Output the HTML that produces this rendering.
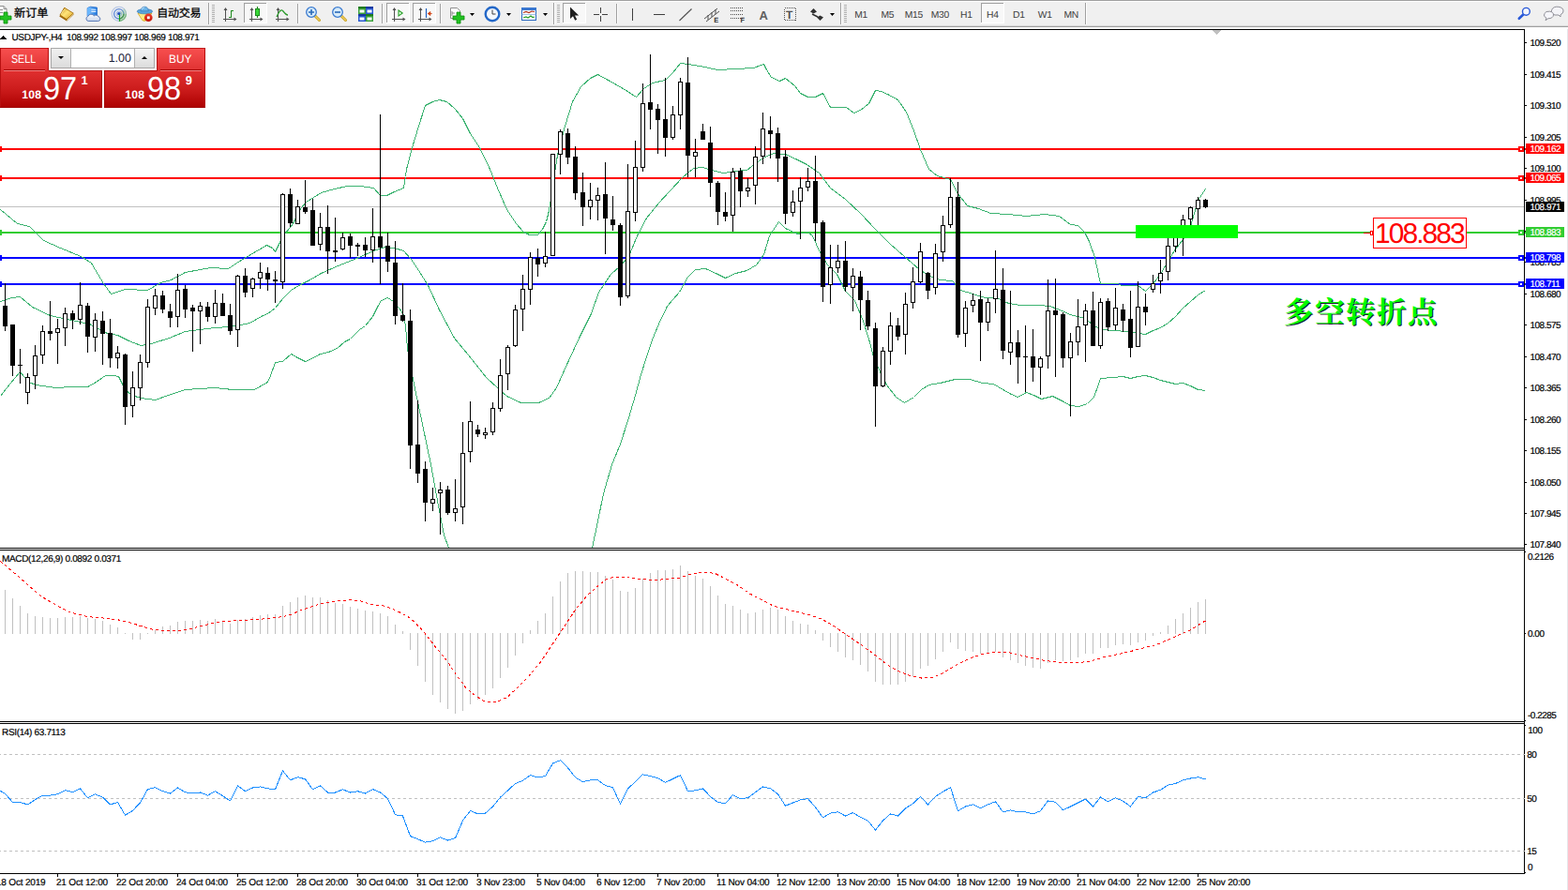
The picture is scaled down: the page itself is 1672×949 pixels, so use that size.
<!DOCTYPE html>
<html><head><meta charset="utf-8"><title>USDJPY H4</title>
<style>
html,body{margin:0;padding:0;background:#fff;}
body{width:1672px;height:949px;overflow:hidden;position:relative;text-rendering:geometricPrecision;font-family:"Liberation Sans",sans-serif;}
#chart{position:absolute;left:0;top:0;}
#tb{position:absolute;left:0;top:0;}
#trade{position:absolute;left:0;top:51px;width:219px;height:64px;font-family:"Liberation Sans",sans-serif;}
#trade div{position:absolute;box-sizing:border-box;}
.sb{background:linear-gradient(#f85050,#e03232);color:#fff;font-size:11.5px;letter-spacing:-0.45px;text-align:center;line-height:24px;}
.pp{background:linear-gradient(#e03030,#cc1c1c 50%,#ac0000);color:#fff;}
.pp span,.sb span{position:absolute;white-space:nowrap;line-height:1;transform-origin:0 0;display:block;}
.sx{font-size:12.4px;letter-spacing:0;transform:scaleX(0.86);}
.s1{font-size:12.2px;font-weight:bold;letter-spacing:0.2px;}
.s2{font-size:34.6px;transform:scaleX(0.94);}
.s3{font-size:12.8px;font-weight:bold;}
</style></head><body>
<svg id="chart" width="1672" height="949" viewBox="0 0 1672 949" shape-rendering="crispEdges" text-rendering="geometricPrecision" font-family="Liberation Sans, sans-serif">
<rect x="0" y="31" width="1672" height="918" fill="#fff"/>
<rect x="1671" y="29" width="1" height="920" fill="#e6e6ea"/>
<defs><clipPath id="cm"><rect x="0" y="32" width="1625" height="552"/></clipPath><clipPath id="cmacd"><rect x="0" y="587" width="1625" height="182"/></clipPath><clipPath id="crsi"><rect x="0" y="772" width="1625" height="159"/></clipPath></defs>
<rect x="0" y="220" width="1625" height="1" fill="#C0C0C0"/>
<rect x="0" y="158" width="1627" height="2" fill="#FF0000"/>
<rect x="0" y="156" width="2" height="6" fill="#FF0000"/>
<rect x="0" y="189" width="1627" height="2" fill="#FF0000"/>
<rect x="0" y="187" width="2" height="6" fill="#FF0000"/>
<rect x="0" y="247" width="1627" height="2" fill="#32CD32"/>
<rect x="0" y="245" width="2" height="6" fill="#32CD32"/>
<rect x="0" y="274" width="1627" height="2" fill="#0000FF"/>
<rect x="0" y="272" width="2" height="6" fill="#0000FF"/>
<rect x="0" y="302" width="1627" height="2" fill="#0000FF"/>
<rect x="0" y="300" width="2" height="6" fill="#0000FF"/>
<g clip-path="url(#cm)">
<polyline points="0.5,223.5 18.5,238.5 31.5,241.5 46.5,256.5 64.5,264.5 86.5,273.5 97.5,280.5 101.5,287.5 110.5,302.5 118.5,313.5 133.5,308.5 157.5,309.5 171.5,301.5 182.5,298.5 197.5,290.5 224.5,285.5 243.5,286.5 252.5,280.5 260.5,275.5 284.5,261.5 290.5,264.5 293.5,268.5 299.5,256.5 304.5,248.5 312.5,238.5 320.5,222.5 326.5,215.5 342.5,205.5 356.5,201.5 370.5,198.5 384.5,198.5 398.5,200.5 405.5,208.5 412.5,208.5 420.5,204.5 430.5,200.5 432.5,188.5 433.5,180.5 439.5,157.5 446.5,134.5 453.5,112.5 461.5,108.5 468.5,106.5 476.5,108.5 485.5,116.5 493.5,126.5 501.5,142.5 511.5,157.5 522.5,180.5 530.5,200.5 540.5,223.5 550.5,238.5 558.5,247.5 564.5,250.5 573.5,250.5 578.5,244.5 582.5,236.5 585.5,224.5 587.5,211.5 588.5,203.5 594.5,165.5 602.5,134.5 610.5,108.5 619.5,92.5 629.5,83.5 637.5,79.5 648.5,85.5 664.5,94.5 678.5,103.5 686.5,94.5 695.5,88.5 709.5,85.5 717.5,77.5 725.5,67.5 733.5,68.5 746.5,70.5 765.5,74.5 784.5,73.5 803.5,72.5 814.5,68.5 817.5,74.5 822.5,82.5 831.5,86.5 837.5,83.5 847.5,91.5 853.5,99.5 861.5,103.5 869.5,103.5 877.5,99.5 885.5,114.5 902.5,114.5 910.5,120.5 917.5,117.5 926.5,110.5 933.5,96.5 939.5,97.5 946.5,100.5 957.5,106.5 966.5,119.5 974.5,139.5 981.5,159.5 990.5,180.5 999.5,187.5 1013.5,191.5 1021.5,206.5 1031.5,219.5 1043.5,222.5 1056.5,227.5 1075.5,228.5 1094.5,230.5 1113.5,228.5 1129.5,230.5 1141.5,239.5 1149.5,240.5 1156.5,247.5 1161.5,257.5 1167.5,274.5 1170.5,288.5 1173.5,302.5 1191.5,302.5 1196.5,304.5 1213.5,304.5 1221.5,310.5 1229.5,302.5 1237.5,292.5 1245.5,278.5 1253.5,265.5 1261.5,255.5 1269.5,241.5 1277.5,213.5 1285.5,201.5" fill="none" stroke="#3CB371" stroke-width="1"/>
<polyline points="0.5,321.5 12.5,317.5 21.5,316.5 34.5,327.5 53.5,336.5 76.5,341.5 95.5,345.5 114.5,355.5 125.5,357.5 137.5,363.5 150.5,368.5 161.5,366.5 180.5,360.5 197.5,353.5 228.5,349.5 245.5,348.5 266.5,344.5 280.5,336.5 285.5,334.5 293.5,328.5 301.5,318.5 310.5,309.5 318.5,304.5 330.5,298.5 342.5,291.5 360.5,283.5 380.5,275.5 398.5,267.5 410.5,263.5 420.5,264.5 430.5,267.5 438.5,276.5 446.5,288.5 456.5,304.5 468.5,330.5 484.5,360.5 503.5,383.5 518.5,402.5 531.5,414.5 540.5,422.5 555.5,429.5 574.5,429.5 585.5,424.5 593.5,413.5 605.5,386.5 618.5,358.5 630.5,334.5 638.5,311.5 651.5,292.5 660.5,284.5 670.5,273.5 679.5,251.5 689.5,232.5 702.5,216.5 714.5,203.5 727.5,189.5 739.5,179.5 749.5,178.5 758.5,181.5 771.5,184.5 784.5,182.5 796.5,181.5 806.5,173.5 815.5,167.5 825.5,163.5 837.5,164.5 850.5,170.5 860.5,175.5 873.5,184.5 885.5,200.5 901.5,212.5 917.5,227.5 933.5,244.5 949.5,260.5 964.5,273.5 980.5,287.5 993.5,295.5 1002.5,298.5 1015.5,299.5 1024.5,309.5 1037.5,313.5 1050.5,317.5 1062.5,317.5 1075.5,323.5 1088.5,325.5 1107.5,325.5 1119.5,326.5 1132.5,331.5 1141.5,335.5 1156.5,339.5 1164.5,345.5 1173.5,351.5 1187.5,352.5 1201.5,353.5 1213.5,355.5 1221.5,356.5 1229.5,352.5 1237.5,349.5 1245.5,344.5 1253.5,337.5 1261.5,328.5 1269.5,321.5 1277.5,314.5 1285.5,309.5" fill="none" stroke="#3CB371" stroke-width="1"/>
<polyline points="0.5,422.5 10.5,409.5 21.5,396.5 30.5,407.5 38.5,410.5 59.5,413.5 76.5,412.5 93.5,412.5 102.5,407.5 112.5,400.5 121.5,400.5 126.5,401.5 133.5,415.5 140.5,421.5 150.5,424.5 165.5,426.5 182.5,420.5 197.5,415.5 228.5,413.5 248.5,415.5 271.5,415.5 285.5,407.5 288.5,400.5 293.5,386.5 301.5,385.5 310.5,377.5 317.5,381.5 325.5,385.5 332.5,382.5 341.5,377.5 350.5,375.5 359.5,371.5 367.5,364.5 373.5,361.5 383.5,351.5 389.5,347.5 397.5,337.5 402.5,327.5 406.5,320.5 413.5,317.5 419.5,321.5 425.5,328.5 430.5,335.5 432.5,348.5 434.5,371.5 436.5,383.5 442.5,414.5 450.5,452.5 459.5,495.5 467.5,539.5 473.5,570.5 478.5,584.5" fill="none" stroke="#3CB371" stroke-width="1"/>
<polyline points="631.5,584.5 636.5,560.5 643.5,526.5 652.5,495.5 661.5,473.5 670.5,445.5 677.5,421.5 683.5,399.5 689.5,380.5 695.5,362.5 702.5,345.5 711.5,326.5 724.5,311.5 733.5,295.5 741.5,287.5 752.5,286.5 765.5,292.5 773.5,296.5 784.5,291.5 796.5,288.5 806.5,282.5 814.5,271.5 820.5,251.5 830.5,236.5 837.5,243.5 850.5,249.5 861.5,247.5 866.5,251.5 874.5,269.5 882.5,282.5 892.5,292.5 901.5,310.5 911.5,320.5 920.5,342.5 926.5,361.5 931.5,380.5 938.5,396.5 945.5,410.5 955.5,423.5 964.5,429.5 974.5,423.5 982.5,415.5 990.5,410.5 1002.5,408.5 1018.5,404.5 1034.5,404.5 1047.5,408.5 1059.5,409.5 1069.5,415.5 1078.5,420.5 1085.5,423.5 1094.5,418.5 1102.5,421.5 1110.5,425.5 1122.5,422.5 1132.5,427.5 1141.5,432.5 1150.5,433.5 1159.5,430.5 1166.5,423.5 1170.5,412.5 1173.5,403.5 1187.5,402.5 1197.5,401.5 1205.5,403.5 1213.5,401.5 1221.5,400.5 1229.5,402.5 1237.5,405.5 1245.5,407.5 1253.5,409.5 1261.5,408.5 1269.5,411.5 1277.5,415.5 1285.5,416.5" fill="none" stroke="#3CB371" stroke-width="1"/>
<rect x="5" y="302" width="1" height="51" fill="#000"/>
<rect x="3" y="326" width="5" height="22" fill="#000"/>
<rect x="13" y="346" width="1" height="55" fill="#000"/>
<rect x="11" y="346" width="5" height="44" fill="#000"/>
<rect x="21" y="372" width="1" height="37" fill="#000"/>
<rect x="19" y="389" width="5" height="1" fill="#000"/>
<rect x="29" y="398" width="1" height="33" fill="#000"/>
<rect x="27" y="402" width="5" height="17" fill="#000"/>
<rect x="28" y="403" width="3" height="15" fill="#fff"/>
<rect x="37" y="368" width="1" height="47" fill="#000"/>
<rect x="35" y="379" width="5" height="22" fill="#000"/>
<rect x="36" y="380" width="3" height="20" fill="#fff"/>
<rect x="45" y="347" width="1" height="41" fill="#000"/>
<rect x="43" y="353" width="5" height="26" fill="#000"/>
<rect x="44" y="354" width="3" height="24" fill="#fff"/>
<rect x="53" y="321" width="1" height="42" fill="#000"/>
<rect x="51" y="353" width="5" height="3" fill="#000"/>
<rect x="61" y="340" width="1" height="48" fill="#000"/>
<rect x="59" y="350" width="5" height="5" fill="#000"/>
<rect x="60" y="351" width="3" height="3" fill="#fff"/>
<rect x="69" y="328" width="1" height="41" fill="#000"/>
<rect x="67" y="334" width="5" height="16" fill="#000"/>
<rect x="68" y="335" width="3" height="14" fill="#fff"/>
<rect x="77" y="331" width="1" height="20" fill="#000"/>
<rect x="75" y="334" width="5" height="7" fill="#000"/>
<rect x="85" y="301" width="1" height="45" fill="#000"/>
<rect x="83" y="325" width="5" height="16" fill="#000"/>
<rect x="84" y="326" width="3" height="14" fill="#fff"/>
<rect x="93" y="323" width="1" height="53" fill="#000"/>
<rect x="91" y="326" width="5" height="33" fill="#000"/>
<rect x="101" y="334" width="1" height="41" fill="#000"/>
<rect x="99" y="341" width="5" height="19" fill="#000"/>
<rect x="100" y="342" width="3" height="17" fill="#fff"/>
<rect x="109" y="332" width="1" height="57" fill="#000"/>
<rect x="107" y="342" width="5" height="14" fill="#000"/>
<rect x="117" y="340" width="1" height="52" fill="#000"/>
<rect x="115" y="355" width="5" height="27" fill="#000"/>
<rect x="125" y="369" width="1" height="24" fill="#000"/>
<rect x="123" y="376" width="5" height="6" fill="#000"/>
<rect x="124" y="377" width="3" height="4" fill="#fff"/>
<rect x="133" y="377" width="1" height="76" fill="#000"/>
<rect x="131" y="378" width="5" height="56" fill="#000"/>
<rect x="141" y="396" width="1" height="49" fill="#000"/>
<rect x="139" y="413" width="5" height="20" fill="#000"/>
<rect x="140" y="414" width="3" height="18" fill="#fff"/>
<rect x="149" y="378" width="1" height="49" fill="#000"/>
<rect x="147" y="386" width="5" height="28" fill="#000"/>
<rect x="148" y="387" width="3" height="26" fill="#fff"/>
<rect x="157" y="319" width="1" height="73" fill="#000"/>
<rect x="155" y="327" width="5" height="60" fill="#000"/>
<rect x="156" y="328" width="3" height="58" fill="#fff"/>
<rect x="165" y="308" width="1" height="28" fill="#000"/>
<rect x="163" y="315" width="5" height="14" fill="#000"/>
<rect x="164" y="316" width="3" height="12" fill="#fff"/>
<rect x="173" y="310" width="1" height="24" fill="#000"/>
<rect x="171" y="315" width="5" height="15" fill="#000"/>
<rect x="181" y="324" width="1" height="25" fill="#000"/>
<rect x="179" y="332" width="5" height="7" fill="#000"/>
<rect x="189" y="292" width="1" height="57" fill="#000"/>
<rect x="187" y="309" width="5" height="29" fill="#000"/>
<rect x="188" y="310" width="3" height="27" fill="#fff"/>
<rect x="197" y="304" width="1" height="35" fill="#000"/>
<rect x="195" y="308" width="5" height="22" fill="#000"/>
<rect x="205" y="325" width="1" height="50" fill="#000"/>
<rect x="203" y="328" width="5" height="4" fill="#000"/>
<rect x="213" y="322" width="1" height="45" fill="#000"/>
<rect x="211" y="326" width="5" height="6" fill="#000"/>
<rect x="212" y="327" width="3" height="4" fill="#fff"/>
<rect x="221" y="322" width="1" height="21" fill="#000"/>
<rect x="219" y="327" width="5" height="11" fill="#000"/>
<rect x="229" y="309" width="1" height="36" fill="#000"/>
<rect x="227" y="323" width="5" height="15" fill="#000"/>
<rect x="228" y="324" width="3" height="13" fill="#fff"/>
<rect x="237" y="313" width="1" height="24" fill="#000"/>
<rect x="235" y="323" width="5" height="14" fill="#000"/>
<rect x="245" y="324" width="1" height="33" fill="#000"/>
<rect x="243" y="336" width="5" height="17" fill="#000"/>
<rect x="253" y="293" width="1" height="77" fill="#000"/>
<rect x="251" y="294" width="5" height="58" fill="#000"/>
<rect x="252" y="295" width="3" height="56" fill="#fff"/>
<rect x="261" y="286" width="1" height="31" fill="#000"/>
<rect x="259" y="294" width="5" height="18" fill="#000"/>
<rect x="269" y="296" width="1" height="21" fill="#000"/>
<rect x="267" y="297" width="5" height="11" fill="#000"/>
<rect x="268" y="298" width="3" height="9" fill="#fff"/>
<rect x="277" y="280" width="1" height="28" fill="#000"/>
<rect x="275" y="290" width="5" height="7" fill="#000"/>
<rect x="276" y="291" width="3" height="5" fill="#fff"/>
<rect x="285" y="285" width="1" height="25" fill="#000"/>
<rect x="283" y="291" width="5" height="7" fill="#000"/>
<rect x="293" y="289" width="1" height="34" fill="#000"/>
<rect x="291" y="298" width="5" height="2" fill="#000"/>
<rect x="301" y="206" width="1" height="102" fill="#000"/>
<rect x="299" y="207" width="5" height="94" fill="#000"/>
<rect x="300" y="208" width="3" height="92" fill="#fff"/>
<rect x="309" y="201" width="1" height="41" fill="#000"/>
<rect x="307" y="207" width="5" height="31" fill="#000"/>
<rect x="317" y="213" width="1" height="26" fill="#000"/>
<rect x="315" y="220" width="5" height="19" fill="#000"/>
<rect x="316" y="221" width="3" height="17" fill="#fff"/>
<rect x="325" y="192" width="1" height="36" fill="#000"/>
<rect x="323" y="221" width="5" height="5" fill="#000"/>
<rect x="333" y="212" width="1" height="50" fill="#000"/>
<rect x="331" y="224" width="5" height="38" fill="#000"/>
<rect x="341" y="227" width="1" height="40" fill="#000"/>
<rect x="339" y="242" width="5" height="19" fill="#000"/>
<rect x="340" y="243" width="3" height="17" fill="#fff"/>
<rect x="349" y="219" width="1" height="73" fill="#000"/>
<rect x="347" y="242" width="5" height="26" fill="#000"/>
<rect x="357" y="232" width="1" height="47" fill="#000"/>
<rect x="355" y="267" width="5" height="2" fill="#000"/>
<rect x="365" y="248" width="1" height="19" fill="#000"/>
<rect x="363" y="253" width="5" height="13" fill="#000"/>
<rect x="364" y="254" width="3" height="11" fill="#fff"/>
<rect x="373" y="249" width="1" height="26" fill="#000"/>
<rect x="371" y="252" width="5" height="10" fill="#000"/>
<rect x="381" y="259" width="1" height="14" fill="#000"/>
<rect x="379" y="261" width="5" height="2" fill="#000"/>
<rect x="389" y="253" width="1" height="21" fill="#000"/>
<rect x="387" y="261" width="5" height="6" fill="#000"/>
<rect x="397" y="222" width="1" height="58" fill="#000"/>
<rect x="395" y="252" width="5" height="15" fill="#000"/>
<rect x="396" y="253" width="3" height="13" fill="#fff"/>
<rect x="405" y="122" width="1" height="181" fill="#000"/>
<rect x="403" y="252" width="5" height="12" fill="#000"/>
<rect x="413" y="248" width="1" height="42" fill="#000"/>
<rect x="411" y="262" width="5" height="17" fill="#000"/>
<rect x="421" y="257" width="1" height="89" fill="#000"/>
<rect x="419" y="280" width="5" height="57" fill="#000"/>
<rect x="429" y="302" width="1" height="41" fill="#000"/>
<rect x="427" y="336" width="5" height="6" fill="#000"/>
<rect x="437" y="330" width="1" height="170" fill="#000"/>
<rect x="435" y="342" width="5" height="133" fill="#000"/>
<rect x="445" y="427" width="1" height="88" fill="#000"/>
<rect x="443" y="474" width="5" height="31" fill="#000"/>
<rect x="453" y="492" width="1" height="64" fill="#000"/>
<rect x="451" y="500" width="5" height="36" fill="#000"/>
<rect x="461" y="520" width="1" height="25" fill="#000"/>
<rect x="459" y="532" width="5" height="5" fill="#000"/>
<rect x="460" y="533" width="3" height="3" fill="#fff"/>
<rect x="469" y="514" width="1" height="56" fill="#000"/>
<rect x="467" y="522" width="5" height="4" fill="#000"/>
<rect x="468" y="523" width="3" height="2" fill="#fff"/>
<rect x="477" y="518" width="1" height="31" fill="#000"/>
<rect x="475" y="522" width="5" height="25" fill="#000"/>
<rect x="485" y="511" width="1" height="45" fill="#000"/>
<rect x="483" y="542" width="5" height="5" fill="#000"/>
<rect x="484" y="543" width="3" height="3" fill="#fff"/>
<rect x="493" y="450" width="1" height="109" fill="#000"/>
<rect x="491" y="483" width="5" height="58" fill="#000"/>
<rect x="492" y="484" width="3" height="56" fill="#fff"/>
<rect x="501" y="428" width="1" height="65" fill="#000"/>
<rect x="499" y="449" width="5" height="33" fill="#000"/>
<rect x="500" y="450" width="3" height="31" fill="#fff"/>
<rect x="509" y="453" width="1" height="13" fill="#000"/>
<rect x="507" y="458" width="5" height="5" fill="#000"/>
<rect x="517" y="456" width="1" height="12" fill="#000"/>
<rect x="515" y="461" width="5" height="3" fill="#000"/>
<rect x="516" y="462" width="3" height="1" fill="#fff"/>
<rect x="525" y="429" width="1" height="35" fill="#000"/>
<rect x="523" y="435" width="5" height="26" fill="#000"/>
<rect x="524" y="436" width="3" height="24" fill="#fff"/>
<rect x="533" y="383" width="1" height="56" fill="#000"/>
<rect x="531" y="400" width="5" height="36" fill="#000"/>
<rect x="532" y="401" width="3" height="34" fill="#fff"/>
<rect x="541" y="368" width="1" height="48" fill="#000"/>
<rect x="539" y="370" width="5" height="29" fill="#000"/>
<rect x="540" y="371" width="3" height="27" fill="#fff"/>
<rect x="549" y="325" width="1" height="45" fill="#000"/>
<rect x="547" y="330" width="5" height="39" fill="#000"/>
<rect x="548" y="331" width="3" height="37" fill="#fff"/>
<rect x="557" y="293" width="1" height="60" fill="#000"/>
<rect x="555" y="308" width="5" height="22" fill="#000"/>
<rect x="556" y="309" width="3" height="20" fill="#fff"/>
<rect x="565" y="269" width="1" height="56" fill="#000"/>
<rect x="563" y="274" width="5" height="35" fill="#000"/>
<rect x="564" y="275" width="3" height="33" fill="#fff"/>
<rect x="573" y="265" width="1" height="30" fill="#000"/>
<rect x="571" y="275" width="5" height="7" fill="#000"/>
<rect x="581" y="247" width="1" height="38" fill="#000"/>
<rect x="579" y="273" width="5" height="8" fill="#000"/>
<rect x="580" y="274" width="3" height="6" fill="#fff"/>
<rect x="589" y="164" width="1" height="109" fill="#000"/>
<rect x="587" y="164" width="5" height="109" fill="#000"/>
<rect x="588" y="165" width="3" height="107" fill="#fff"/>
<rect x="597" y="138" width="1" height="48" fill="#000"/>
<rect x="595" y="140" width="5" height="25" fill="#000"/>
<rect x="596" y="141" width="3" height="23" fill="#fff"/>
<rect x="605" y="137" width="1" height="38" fill="#000"/>
<rect x="603" y="142" width="5" height="26" fill="#000"/>
<rect x="613" y="156" width="1" height="57" fill="#000"/>
<rect x="611" y="167" width="5" height="39" fill="#000"/>
<rect x="621" y="184" width="1" height="57" fill="#000"/>
<rect x="619" y="205" width="5" height="16" fill="#000"/>
<rect x="629" y="195" width="1" height="39" fill="#000"/>
<rect x="627" y="213" width="5" height="8" fill="#000"/>
<rect x="628" y="214" width="3" height="6" fill="#fff"/>
<rect x="637" y="200" width="1" height="35" fill="#000"/>
<rect x="635" y="208" width="5" height="6" fill="#000"/>
<rect x="636" y="209" width="3" height="4" fill="#fff"/>
<rect x="645" y="173" width="1" height="98" fill="#000"/>
<rect x="643" y="207" width="5" height="26" fill="#000"/>
<rect x="653" y="209" width="1" height="37" fill="#000"/>
<rect x="651" y="234" width="5" height="6" fill="#000"/>
<rect x="661" y="238" width="1" height="88" fill="#000"/>
<rect x="659" y="240" width="5" height="77" fill="#000"/>
<rect x="669" y="175" width="1" height="143" fill="#000"/>
<rect x="667" y="225" width="5" height="91" fill="#000"/>
<rect x="668" y="226" width="3" height="89" fill="#fff"/>
<rect x="677" y="150" width="1" height="86" fill="#000"/>
<rect x="675" y="178" width="5" height="49" fill="#000"/>
<rect x="676" y="179" width="3" height="47" fill="#fff"/>
<rect x="685" y="89" width="1" height="94" fill="#000"/>
<rect x="683" y="110" width="5" height="69" fill="#000"/>
<rect x="684" y="111" width="3" height="67" fill="#fff"/>
<rect x="693" y="58" width="1" height="80" fill="#000"/>
<rect x="691" y="109" width="5" height="8" fill="#000"/>
<rect x="701" y="111" width="1" height="53" fill="#000"/>
<rect x="699" y="116" width="5" height="12" fill="#000"/>
<rect x="709" y="83" width="1" height="84" fill="#000"/>
<rect x="707" y="127" width="5" height="20" fill="#000"/>
<rect x="717" y="113" width="1" height="36" fill="#000"/>
<rect x="715" y="122" width="5" height="25" fill="#000"/>
<rect x="716" y="123" width="3" height="23" fill="#fff"/>
<rect x="725" y="83" width="1" height="55" fill="#000"/>
<rect x="723" y="87" width="5" height="36" fill="#000"/>
<rect x="724" y="88" width="3" height="34" fill="#fff"/>
<rect x="733" y="61" width="1" height="128" fill="#000"/>
<rect x="731" y="88" width="5" height="78" fill="#000"/>
<rect x="741" y="148" width="1" height="41" fill="#000"/>
<rect x="739" y="162" width="5" height="5" fill="#000"/>
<rect x="740" y="163" width="3" height="3" fill="#fff"/>
<rect x="749" y="132" width="1" height="17" fill="#000"/>
<rect x="747" y="140" width="5" height="9" fill="#000"/>
<rect x="757" y="135" width="1" height="75" fill="#000"/>
<rect x="755" y="152" width="5" height="43" fill="#000"/>
<rect x="765" y="193" width="1" height="47" fill="#000"/>
<rect x="763" y="195" width="5" height="31" fill="#000"/>
<rect x="773" y="205" width="1" height="31" fill="#000"/>
<rect x="771" y="226" width="5" height="5" fill="#000"/>
<rect x="781" y="179" width="1" height="68" fill="#000"/>
<rect x="779" y="183" width="5" height="47" fill="#000"/>
<rect x="780" y="184" width="3" height="45" fill="#fff"/>
<rect x="789" y="179" width="1" height="42" fill="#000"/>
<rect x="787" y="182" width="5" height="22" fill="#000"/>
<rect x="797" y="190" width="1" height="20" fill="#000"/>
<rect x="795" y="200" width="5" height="4" fill="#000"/>
<rect x="796" y="201" width="3" height="2" fill="#fff"/>
<rect x="805" y="156" width="1" height="62" fill="#000"/>
<rect x="803" y="167" width="5" height="31" fill="#000"/>
<rect x="804" y="168" width="3" height="29" fill="#fff"/>
<rect x="813" y="120" width="1" height="55" fill="#000"/>
<rect x="811" y="137" width="5" height="30" fill="#000"/>
<rect x="812" y="138" width="3" height="28" fill="#fff"/>
<rect x="821" y="124" width="1" height="45" fill="#000"/>
<rect x="819" y="139" width="5" height="4" fill="#000"/>
<rect x="829" y="136" width="1" height="58" fill="#000"/>
<rect x="827" y="142" width="5" height="27" fill="#000"/>
<rect x="837" y="160" width="1" height="79" fill="#000"/>
<rect x="835" y="167" width="5" height="61" fill="#000"/>
<rect x="845" y="203" width="1" height="28" fill="#000"/>
<rect x="843" y="215" width="5" height="12" fill="#000"/>
<rect x="844" y="216" width="3" height="10" fill="#fff"/>
<rect x="853" y="189" width="1" height="66" fill="#000"/>
<rect x="851" y="200" width="5" height="15" fill="#000"/>
<rect x="852" y="201" width="3" height="13" fill="#fff"/>
<rect x="861" y="179" width="1" height="25" fill="#000"/>
<rect x="859" y="193" width="5" height="7" fill="#000"/>
<rect x="860" y="194" width="3" height="5" fill="#fff"/>
<rect x="869" y="166" width="1" height="91" fill="#000"/>
<rect x="867" y="193" width="5" height="45" fill="#000"/>
<rect x="877" y="235" width="1" height="87" fill="#000"/>
<rect x="875" y="237" width="5" height="69" fill="#000"/>
<rect x="885" y="261" width="1" height="63" fill="#000"/>
<rect x="883" y="285" width="5" height="19" fill="#000"/>
<rect x="884" y="286" width="3" height="17" fill="#fff"/>
<rect x="893" y="261" width="1" height="30" fill="#000"/>
<rect x="891" y="278" width="5" height="8" fill="#000"/>
<rect x="892" y="279" width="3" height="6" fill="#fff"/>
<rect x="901" y="257" width="1" height="54" fill="#000"/>
<rect x="899" y="278" width="5" height="28" fill="#000"/>
<rect x="909" y="286" width="1" height="46" fill="#000"/>
<rect x="907" y="294" width="5" height="13" fill="#000"/>
<rect x="908" y="295" width="3" height="11" fill="#fff"/>
<rect x="917" y="289" width="1" height="63" fill="#000"/>
<rect x="915" y="295" width="5" height="25" fill="#000"/>
<rect x="925" y="310" width="1" height="42" fill="#000"/>
<rect x="923" y="320" width="5" height="28" fill="#000"/>
<rect x="933" y="344" width="1" height="111" fill="#000"/>
<rect x="931" y="350" width="5" height="62" fill="#000"/>
<rect x="941" y="370" width="1" height="43" fill="#000"/>
<rect x="939" y="374" width="5" height="38" fill="#000"/>
<rect x="940" y="375" width="3" height="36" fill="#fff"/>
<rect x="949" y="333" width="1" height="56" fill="#000"/>
<rect x="947" y="347" width="5" height="28" fill="#000"/>
<rect x="948" y="348" width="3" height="26" fill="#fff"/>
<rect x="957" y="339" width="1" height="24" fill="#000"/>
<rect x="955" y="347" width="5" height="12" fill="#000"/>
<rect x="965" y="312" width="1" height="66" fill="#000"/>
<rect x="963" y="324" width="5" height="33" fill="#000"/>
<rect x="964" y="325" width="3" height="31" fill="#fff"/>
<rect x="973" y="285" width="1" height="44" fill="#000"/>
<rect x="971" y="300" width="5" height="23" fill="#000"/>
<rect x="972" y="301" width="3" height="21" fill="#fff"/>
<rect x="981" y="259" width="1" height="43" fill="#000"/>
<rect x="979" y="268" width="5" height="33" fill="#000"/>
<rect x="980" y="269" width="3" height="31" fill="#fff"/>
<rect x="989" y="290" width="1" height="29" fill="#000"/>
<rect x="987" y="291" width="5" height="19" fill="#000"/>
<rect x="997" y="260" width="1" height="54" fill="#000"/>
<rect x="995" y="270" width="5" height="37" fill="#000"/>
<rect x="996" y="271" width="3" height="35" fill="#fff"/>
<rect x="1005" y="230" width="1" height="49" fill="#000"/>
<rect x="1003" y="240" width="5" height="29" fill="#000"/>
<rect x="1004" y="241" width="3" height="27" fill="#fff"/>
<rect x="1013" y="190" width="1" height="53" fill="#000"/>
<rect x="1011" y="210" width="5" height="30" fill="#000"/>
<rect x="1012" y="211" width="3" height="28" fill="#fff"/>
<rect x="1021" y="194" width="1" height="166" fill="#000"/>
<rect x="1019" y="210" width="5" height="147" fill="#000"/>
<rect x="1029" y="321" width="1" height="49" fill="#000"/>
<rect x="1027" y="328" width="5" height="28" fill="#000"/>
<rect x="1028" y="329" width="3" height="26" fill="#fff"/>
<rect x="1037" y="313" width="1" height="20" fill="#000"/>
<rect x="1035" y="320" width="5" height="6" fill="#000"/>
<rect x="1036" y="321" width="3" height="4" fill="#fff"/>
<rect x="1045" y="310" width="1" height="75" fill="#000"/>
<rect x="1043" y="319" width="5" height="25" fill="#000"/>
<rect x="1053" y="318" width="1" height="35" fill="#000"/>
<rect x="1051" y="322" width="5" height="22" fill="#000"/>
<rect x="1052" y="323" width="3" height="20" fill="#fff"/>
<rect x="1061" y="267" width="1" height="67" fill="#000"/>
<rect x="1059" y="308" width="5" height="11" fill="#000"/>
<rect x="1060" y="309" width="3" height="9" fill="#fff"/>
<rect x="1069" y="286" width="1" height="97" fill="#000"/>
<rect x="1067" y="309" width="5" height="65" fill="#000"/>
<rect x="1077" y="310" width="1" height="79" fill="#000"/>
<rect x="1075" y="365" width="5" height="11" fill="#000"/>
<rect x="1076" y="366" width="3" height="9" fill="#fff"/>
<rect x="1085" y="352" width="1" height="57" fill="#000"/>
<rect x="1083" y="365" width="5" height="16" fill="#000"/>
<rect x="1093" y="347" width="1" height="71" fill="#000"/>
<rect x="1091" y="380" width="5" height="1" fill="#000"/>
<rect x="1101" y="351" width="1" height="56" fill="#000"/>
<rect x="1099" y="380" width="5" height="12" fill="#000"/>
<rect x="1109" y="380" width="1" height="41" fill="#000"/>
<rect x="1107" y="382" width="5" height="10" fill="#000"/>
<rect x="1108" y="383" width="3" height="8" fill="#fff"/>
<rect x="1117" y="298" width="1" height="95" fill="#000"/>
<rect x="1115" y="331" width="5" height="49" fill="#000"/>
<rect x="1116" y="332" width="3" height="47" fill="#fff"/>
<rect x="1125" y="297" width="1" height="105" fill="#000"/>
<rect x="1123" y="331" width="5" height="5" fill="#000"/>
<rect x="1133" y="333" width="1" height="59" fill="#000"/>
<rect x="1131" y="335" width="5" height="47" fill="#000"/>
<rect x="1141" y="355" width="1" height="89" fill="#000"/>
<rect x="1139" y="364" width="5" height="18" fill="#000"/>
<rect x="1140" y="365" width="3" height="16" fill="#fff"/>
<rect x="1149" y="319" width="1" height="60" fill="#000"/>
<rect x="1147" y="348" width="5" height="17" fill="#000"/>
<rect x="1148" y="349" width="3" height="15" fill="#fff"/>
<rect x="1157" y="324" width="1" height="62" fill="#000"/>
<rect x="1155" y="331" width="5" height="16" fill="#000"/>
<rect x="1156" y="332" width="3" height="14" fill="#fff"/>
<rect x="1165" y="311" width="1" height="58" fill="#000"/>
<rect x="1163" y="331" width="5" height="38" fill="#000"/>
<rect x="1173" y="318" width="1" height="54" fill="#000"/>
<rect x="1171" y="322" width="5" height="47" fill="#000"/>
<rect x="1172" y="323" width="3" height="45" fill="#fff"/>
<rect x="1181" y="318" width="1" height="35" fill="#000"/>
<rect x="1179" y="321" width="5" height="28" fill="#000"/>
<rect x="1189" y="307" width="1" height="45" fill="#000"/>
<rect x="1187" y="328" width="5" height="19" fill="#000"/>
<rect x="1188" y="329" width="3" height="17" fill="#fff"/>
<rect x="1197" y="324" width="1" height="30" fill="#000"/>
<rect x="1195" y="330" width="5" height="12" fill="#000"/>
<rect x="1205" y="310" width="1" height="71" fill="#000"/>
<rect x="1203" y="340" width="5" height="31" fill="#000"/>
<rect x="1213" y="300" width="1" height="70" fill="#000"/>
<rect x="1211" y="327" width="5" height="43" fill="#000"/>
<rect x="1212" y="328" width="3" height="41" fill="#fff"/>
<rect x="1221" y="313" width="1" height="34" fill="#000"/>
<rect x="1219" y="327" width="5" height="6" fill="#000"/>
<rect x="1229" y="293" width="1" height="19" fill="#000"/>
<rect x="1227" y="302" width="5" height="7" fill="#000"/>
<rect x="1228" y="303" width="3" height="5" fill="#fff"/>
<rect x="1237" y="277" width="1" height="36" fill="#000"/>
<rect x="1235" y="291" width="5" height="9" fill="#000"/>
<rect x="1236" y="292" width="3" height="7" fill="#fff"/>
<rect x="1245" y="250" width="1" height="49" fill="#000"/>
<rect x="1243" y="262" width="5" height="28" fill="#000"/>
<rect x="1244" y="263" width="3" height="26" fill="#fff"/>
<rect x="1253" y="245" width="1" height="24" fill="#000"/>
<rect x="1251" y="250" width="5" height="13" fill="#000"/>
<rect x="1252" y="251" width="3" height="11" fill="#fff"/>
<rect x="1261" y="229" width="1" height="44" fill="#000"/>
<rect x="1259" y="234" width="5" height="16" fill="#000"/>
<rect x="1260" y="235" width="3" height="14" fill="#fff"/>
<rect x="1269" y="220" width="1" height="22" fill="#000"/>
<rect x="1267" y="221" width="5" height="13" fill="#000"/>
<rect x="1268" y="222" width="3" height="11" fill="#fff"/>
<rect x="1277" y="210" width="1" height="31" fill="#000"/>
<rect x="1275" y="213" width="5" height="10" fill="#000"/>
<rect x="1276" y="214" width="3" height="8" fill="#fff"/>
<rect x="1285" y="212" width="1" height="10" fill="#000"/>
<rect x="1283" y="213" width="5" height="8" fill="#000"/>
</g>
<rect x="1211" y="240" width="109" height="14" fill="#00FF00"/>
<rect x="1464" y="232" width="100" height="33" fill="#FF0000"/>
<rect x="1465" y="233" width="98" height="31" fill="#fff"/>
<rect x="1454" y="248" width="8" height="1" fill="#FF0000"/>
<rect x="1461" y="246" width="3" height="5" fill="#FF0000"/>
<rect x="1462" y="247" width="1" height="3" fill="#fff"/>
<text x="1466" y="259.3" font-size="30" fill="#FF0000" letter-spacing="-1.95">108.883</text>
<rect x="0" y="31" width="1626" height="1" fill="#000"/>
<rect x="1625" y="31" width="1" height="901" fill="#000"/>
<rect x="0" y="584" width="1626" height="1" fill="#000"/>
<rect x="0" y="586" width="1626" height="1" fill="#000"/>
<rect x="0" y="769" width="1626" height="1" fill="#000"/>
<rect x="0" y="771" width="1626" height="1" fill="#000"/>
<rect x="0" y="931" width="1626" height="1" fill="#000"/>
<polygon points="1293,32 1302,32 1297.5,37" fill="#C0C0C0"/>
<rect x="1626" y="45" width="2" height="1" fill="#000"/>
<text x="1631.5" y="49" font-size="10" fill="#000" text-anchor="start" letter-spacing="-0.5" font-weight="normal" stroke="#000" stroke-width="0.2">109.520</text>
<rect x="1626" y="79" width="2" height="1" fill="#000"/>
<text x="1631.5" y="83" font-size="10" fill="#000" text-anchor="start" letter-spacing="-0.5" font-weight="normal" stroke="#000" stroke-width="0.2">109.415</text>
<rect x="1626" y="112" width="2" height="1" fill="#000"/>
<text x="1631.5" y="116" font-size="10" fill="#000" text-anchor="start" letter-spacing="-0.5" font-weight="normal" stroke="#000" stroke-width="0.2">109.310</text>
<rect x="1626" y="146" width="2" height="1" fill="#000"/>
<text x="1631.5" y="150" font-size="10" fill="#000" text-anchor="start" letter-spacing="-0.5" font-weight="normal" stroke="#000" stroke-width="0.2">109.205</text>
<rect x="1626" y="179" width="2" height="1" fill="#000"/>
<text x="1631.5" y="183" font-size="10" fill="#000" text-anchor="start" letter-spacing="-0.5" font-weight="normal" stroke="#000" stroke-width="0.2">109.100</text>
<rect x="1626" y="213" width="2" height="1" fill="#000"/>
<text x="1631.5" y="217" font-size="10" fill="#000" text-anchor="start" letter-spacing="-0.5" font-weight="normal" stroke="#000" stroke-width="0.2">108.995</text>
<rect x="1626" y="246" width="2" height="1" fill="#000"/>
<text x="1631.5" y="250" font-size="10" fill="#000" text-anchor="start" letter-spacing="-0.5" font-weight="normal" stroke="#000" stroke-width="0.2">108.890</text>
<rect x="1626" y="279" width="2" height="1" fill="#000"/>
<text x="1631.5" y="283" font-size="10" fill="#000" text-anchor="start" letter-spacing="-0.5" font-weight="normal" stroke="#000" stroke-width="0.2">108.785</text>
<rect x="1626" y="313" width="2" height="1" fill="#000"/>
<text x="1631.5" y="317" font-size="10" fill="#000" text-anchor="start" letter-spacing="-0.5" font-weight="normal" stroke="#000" stroke-width="0.2">108.680</text>
<rect x="1626" y="346" width="2" height="1" fill="#000"/>
<text x="1631.5" y="350" font-size="10" fill="#000" text-anchor="start" letter-spacing="-0.5" font-weight="normal" stroke="#000" stroke-width="0.2">108.575</text>
<rect x="1626" y="380" width="2" height="1" fill="#000"/>
<text x="1631.5" y="384" font-size="10" fill="#000" text-anchor="start" letter-spacing="-0.5" font-weight="normal" stroke="#000" stroke-width="0.2">108.470</text>
<rect x="1626" y="413" width="2" height="1" fill="#000"/>
<text x="1631.5" y="417" font-size="10" fill="#000" text-anchor="start" letter-spacing="-0.5" font-weight="normal" stroke="#000" stroke-width="0.2">108.365</text>
<rect x="1626" y="447" width="2" height="1" fill="#000"/>
<text x="1631.5" y="451" font-size="10" fill="#000" text-anchor="start" letter-spacing="-0.5" font-weight="normal" stroke="#000" stroke-width="0.2">108.260</text>
<rect x="1626" y="480" width="2" height="1" fill="#000"/>
<text x="1631.5" y="484" font-size="10" fill="#000" text-anchor="start" letter-spacing="-0.5" font-weight="normal" stroke="#000" stroke-width="0.2">108.155</text>
<rect x="1626" y="514" width="2" height="1" fill="#000"/>
<text x="1631.5" y="518" font-size="10" fill="#000" text-anchor="start" letter-spacing="-0.5" font-weight="normal" stroke="#000" stroke-width="0.2">108.050</text>
<rect x="1626" y="547" width="2" height="1" fill="#000"/>
<text x="1631.5" y="551" font-size="10" fill="#000" text-anchor="start" letter-spacing="-0.5" font-weight="normal" stroke="#000" stroke-width="0.2">107.945</text>
<rect x="1626" y="580" width="2" height="1" fill="#000"/>
<text x="1631.5" y="584" font-size="10" fill="#000" text-anchor="start" letter-spacing="-0.5" font-weight="normal" stroke="#000" stroke-width="0.2">107.840</text>
<rect x="1627" y="153" width="41" height="11" fill="#FF0000"/>
<text x="1631.5" y="162" font-size="10" fill="#fff" text-anchor="start" letter-spacing="-0.5" font-weight="normal" stroke="#fff" stroke-width="0.2">109.162</text>
<rect x="1619" y="156" width="6" height="6" fill="#FF0000"/>
<rect x="1621" y="158" width="2" height="2" fill="#fff"/>
<rect x="1627" y="184" width="41" height="11" fill="#FF0000"/>
<text x="1631.5" y="193" font-size="10" fill="#fff" text-anchor="start" letter-spacing="-0.5" font-weight="normal" stroke="#fff" stroke-width="0.2">109.065</text>
<rect x="1619" y="187" width="6" height="6" fill="#FF0000"/>
<rect x="1621" y="189" width="2" height="2" fill="#fff"/>
<rect x="1627" y="242" width="41" height="11" fill="#32CD32"/>
<text x="1631.5" y="251" font-size="10" fill="#fff" text-anchor="start" letter-spacing="-0.5" font-weight="normal" stroke="#fff" stroke-width="0.2">108.883</text>
<rect x="1619" y="245" width="6" height="6" fill="#32CD32"/>
<rect x="1621" y="247" width="2" height="2" fill="#fff"/>
<rect x="1627" y="269" width="41" height="11" fill="#0000FF"/>
<text x="1631.5" y="278" font-size="10" fill="#fff" text-anchor="start" letter-spacing="-0.5" font-weight="normal" stroke="#fff" stroke-width="0.2">108.798</text>
<rect x="1619" y="272" width="6" height="6" fill="#0000FF"/>
<rect x="1621" y="274" width="2" height="2" fill="#fff"/>
<rect x="1627" y="297" width="41" height="11" fill="#0000FF"/>
<text x="1631.5" y="306" font-size="10" fill="#fff" text-anchor="start" letter-spacing="-0.5" font-weight="normal" stroke="#fff" stroke-width="0.2">108.711</text>
<rect x="1619" y="300" width="6" height="6" fill="#0000FF"/>
<rect x="1621" y="302" width="2" height="2" fill="#fff"/>
<rect x="1627" y="215" width="41" height="11" fill="#000"/>
<text x="1631.5" y="224" font-size="10" fill="#fff" text-anchor="start" letter-spacing="-0.5" font-weight="normal" stroke="#fff" stroke-width="0.2">108.971</text>
<g clip-path="url(#cmacd)">
<rect x="5" y="629" width="1" height="47" fill="#C0C0C0"/>
<rect x="13" y="638" width="1" height="38" fill="#C0C0C0"/>
<rect x="21" y="646" width="1" height="30" fill="#C0C0C0"/>
<rect x="29" y="654" width="1" height="22" fill="#C0C0C0"/>
<rect x="37" y="657" width="1" height="19" fill="#C0C0C0"/>
<rect x="45" y="658" width="1" height="18" fill="#C0C0C0"/>
<rect x="53" y="659" width="1" height="17" fill="#C0C0C0"/>
<rect x="61" y="659" width="1" height="17" fill="#C0C0C0"/>
<rect x="69" y="658" width="1" height="18" fill="#C0C0C0"/>
<rect x="77" y="658" width="1" height="18" fill="#C0C0C0"/>
<rect x="85" y="657" width="1" height="19" fill="#C0C0C0"/>
<rect x="93" y="659" width="1" height="17" fill="#C0C0C0"/>
<rect x="101" y="660" width="1" height="16" fill="#C0C0C0"/>
<rect x="109" y="662" width="1" height="14" fill="#C0C0C0"/>
<rect x="117" y="666" width="1" height="10" fill="#C0C0C0"/>
<rect x="125" y="669" width="1" height="7" fill="#C0C0C0"/>
<rect x="133" y="675" width="1" height="1" fill="#C0C0C0"/>
<rect x="141" y="675" width="1" height="7" fill="#C0C0C0"/>
<rect x="149" y="675" width="1" height="7" fill="#C0C0C0"/>
<rect x="157" y="675" width="1" height="1" fill="#C0C0C0"/>
<rect x="165" y="672" width="1" height="4" fill="#C0C0C0"/>
<rect x="173" y="668" width="1" height="8" fill="#C0C0C0"/>
<rect x="181" y="667" width="1" height="9" fill="#C0C0C0"/>
<rect x="189" y="663" width="1" height="13" fill="#C0C0C0"/>
<rect x="197" y="662" width="1" height="14" fill="#C0C0C0"/>
<rect x="205" y="662" width="1" height="14" fill="#C0C0C0"/>
<rect x="213" y="661" width="1" height="15" fill="#C0C0C0"/>
<rect x="221" y="662" width="1" height="14" fill="#C0C0C0"/>
<rect x="229" y="660" width="1" height="16" fill="#C0C0C0"/>
<rect x="237" y="662" width="1" height="14" fill="#C0C0C0"/>
<rect x="245" y="665" width="1" height="11" fill="#C0C0C0"/>
<rect x="253" y="661" width="1" height="15" fill="#C0C0C0"/>
<rect x="261" y="660" width="1" height="16" fill="#C0C0C0"/>
<rect x="269" y="658" width="1" height="18" fill="#C0C0C0"/>
<rect x="277" y="656" width="1" height="20" fill="#C0C0C0"/>
<rect x="285" y="655" width="1" height="21" fill="#C0C0C0"/>
<rect x="293" y="655" width="1" height="21" fill="#C0C0C0"/>
<rect x="301" y="646" width="1" height="30" fill="#C0C0C0"/>
<rect x="309" y="642" width="1" height="34" fill="#C0C0C0"/>
<rect x="317" y="637" width="1" height="39" fill="#C0C0C0"/>
<rect x="325" y="635" width="1" height="41" fill="#C0C0C0"/>
<rect x="333" y="637" width="1" height="39" fill="#C0C0C0"/>
<rect x="341" y="637" width="1" height="39" fill="#C0C0C0"/>
<rect x="349" y="640" width="1" height="36" fill="#C0C0C0"/>
<rect x="357" y="643" width="1" height="33" fill="#C0C0C0"/>
<rect x="365" y="644" width="1" height="32" fill="#C0C0C0"/>
<rect x="373" y="647" width="1" height="29" fill="#C0C0C0"/>
<rect x="381" y="649" width="1" height="27" fill="#C0C0C0"/>
<rect x="389" y="651" width="1" height="25" fill="#C0C0C0"/>
<rect x="397" y="652" width="1" height="24" fill="#C0C0C0"/>
<rect x="405" y="654" width="1" height="22" fill="#C0C0C0"/>
<rect x="413" y="657" width="1" height="19" fill="#C0C0C0"/>
<rect x="421" y="666" width="1" height="10" fill="#C0C0C0"/>
<rect x="429" y="673" width="1" height="3" fill="#C0C0C0"/>
<rect x="437" y="675" width="1" height="18" fill="#C0C0C0"/>
<rect x="445" y="675" width="1" height="35" fill="#C0C0C0"/>
<rect x="453" y="675" width="1" height="52" fill="#C0C0C0"/>
<rect x="461" y="675" width="1" height="66" fill="#C0C0C0"/>
<rect x="469" y="675" width="1" height="74" fill="#C0C0C0"/>
<rect x="477" y="675" width="1" height="81" fill="#C0C0C0"/>
<rect x="485" y="675" width="1" height="86" fill="#C0C0C0"/>
<rect x="493" y="675" width="1" height="83" fill="#C0C0C0"/>
<rect x="501" y="675" width="1" height="76" fill="#C0C0C0"/>
<rect x="509" y="675" width="1" height="71" fill="#C0C0C0"/>
<rect x="517" y="675" width="1" height="66" fill="#C0C0C0"/>
<rect x="525" y="675" width="1" height="59" fill="#C0C0C0"/>
<rect x="533" y="675" width="1" height="48" fill="#C0C0C0"/>
<rect x="541" y="675" width="1" height="37" fill="#C0C0C0"/>
<rect x="549" y="675" width="1" height="24" fill="#C0C0C0"/>
<rect x="557" y="675" width="1" height="11" fill="#C0C0C0"/>
<rect x="565" y="672" width="1" height="4" fill="#C0C0C0"/>
<rect x="573" y="662" width="1" height="14" fill="#C0C0C0"/>
<rect x="581" y="654" width="1" height="22" fill="#C0C0C0"/>
<rect x="589" y="636" width="1" height="40" fill="#C0C0C0"/>
<rect x="597" y="620" width="1" height="56" fill="#C0C0C0"/>
<rect x="605" y="611" width="1" height="65" fill="#C0C0C0"/>
<rect x="613" y="609" width="1" height="67" fill="#C0C0C0"/>
<rect x="621" y="609" width="1" height="67" fill="#C0C0C0"/>
<rect x="629" y="610" width="1" height="66" fill="#C0C0C0"/>
<rect x="637" y="610" width="1" height="66" fill="#C0C0C0"/>
<rect x="645" y="614" width="1" height="62" fill="#C0C0C0"/>
<rect x="653" y="618" width="1" height="58" fill="#C0C0C0"/>
<rect x="661" y="630" width="1" height="46" fill="#C0C0C0"/>
<rect x="669" y="631" width="1" height="45" fill="#C0C0C0"/>
<rect x="677" y="627" width="1" height="49" fill="#C0C0C0"/>
<rect x="685" y="617" width="1" height="59" fill="#C0C0C0"/>
<rect x="693" y="611" width="1" height="65" fill="#C0C0C0"/>
<rect x="701" y="608" width="1" height="68" fill="#C0C0C0"/>
<rect x="709" y="608" width="1" height="68" fill="#C0C0C0"/>
<rect x="717" y="607" width="1" height="69" fill="#C0C0C0"/>
<rect x="725" y="603" width="1" height="73" fill="#C0C0C0"/>
<rect x="733" y="609" width="1" height="67" fill="#C0C0C0"/>
<rect x="741" y="614" width="1" height="62" fill="#C0C0C0"/>
<rect x="749" y="617" width="1" height="59" fill="#C0C0C0"/>
<rect x="757" y="625" width="1" height="51" fill="#C0C0C0"/>
<rect x="765" y="635" width="1" height="41" fill="#C0C0C0"/>
<rect x="773" y="644" width="1" height="32" fill="#C0C0C0"/>
<rect x="781" y="646" width="1" height="30" fill="#C0C0C0"/>
<rect x="789" y="650" width="1" height="26" fill="#C0C0C0"/>
<rect x="797" y="654" width="1" height="22" fill="#C0C0C0"/>
<rect x="805" y="653" width="1" height="23" fill="#C0C0C0"/>
<rect x="813" y="650" width="1" height="26" fill="#C0C0C0"/>
<rect x="821" y="648" width="1" height="28" fill="#C0C0C0"/>
<rect x="829" y="650" width="1" height="26" fill="#C0C0C0"/>
<rect x="837" y="657" width="1" height="19" fill="#C0C0C0"/>
<rect x="845" y="662" width="1" height="14" fill="#C0C0C0"/>
<rect x="853" y="665" width="1" height="11" fill="#C0C0C0"/>
<rect x="861" y="666" width="1" height="10" fill="#C0C0C0"/>
<rect x="869" y="672" width="1" height="4" fill="#C0C0C0"/>
<rect x="877" y="675" width="1" height="8" fill="#C0C0C0"/>
<rect x="885" y="675" width="1" height="15" fill="#C0C0C0"/>
<rect x="893" y="675" width="1" height="20" fill="#C0C0C0"/>
<rect x="901" y="675" width="1" height="26" fill="#C0C0C0"/>
<rect x="909" y="675" width="1" height="29" fill="#C0C0C0"/>
<rect x="917" y="675" width="1" height="34" fill="#C0C0C0"/>
<rect x="925" y="675" width="1" height="41" fill="#C0C0C0"/>
<rect x="933" y="675" width="1" height="52" fill="#C0C0C0"/>
<rect x="941" y="675" width="1" height="55" fill="#C0C0C0"/>
<rect x="949" y="675" width="1" height="55" fill="#C0C0C0"/>
<rect x="957" y="675" width="1" height="55" fill="#C0C0C0"/>
<rect x="965" y="675" width="1" height="52" fill="#C0C0C0"/>
<rect x="973" y="675" width="1" height="46" fill="#C0C0C0"/>
<rect x="981" y="675" width="1" height="38" fill="#C0C0C0"/>
<rect x="989" y="675" width="1" height="35" fill="#C0C0C0"/>
<rect x="997" y="675" width="1" height="28" fill="#C0C0C0"/>
<rect x="1005" y="675" width="1" height="20" fill="#C0C0C0"/>
<rect x="1013" y="675" width="1" height="10" fill="#C0C0C0"/>
<rect x="1021" y="675" width="1" height="17" fill="#C0C0C0"/>
<rect x="1029" y="675" width="1" height="19" fill="#C0C0C0"/>
<rect x="1037" y="675" width="1" height="20" fill="#C0C0C0"/>
<rect x="1045" y="675" width="1" height="22" fill="#C0C0C0"/>
<rect x="1053" y="675" width="1" height="22" fill="#C0C0C0"/>
<rect x="1061" y="675" width="1" height="20" fill="#C0C0C0"/>
<rect x="1069" y="675" width="1" height="26" fill="#C0C0C0"/>
<rect x="1077" y="675" width="1" height="29" fill="#C0C0C0"/>
<rect x="1085" y="675" width="1" height="32" fill="#C0C0C0"/>
<rect x="1093" y="675" width="1" height="35" fill="#C0C0C0"/>
<rect x="1101" y="675" width="1" height="37" fill="#C0C0C0"/>
<rect x="1109" y="675" width="1" height="38" fill="#C0C0C0"/>
<rect x="1117" y="675" width="1" height="32" fill="#C0C0C0"/>
<rect x="1125" y="675" width="1" height="29" fill="#C0C0C0"/>
<rect x="1133" y="675" width="1" height="30" fill="#C0C0C0"/>
<rect x="1141" y="675" width="1" height="29" fill="#C0C0C0"/>
<rect x="1149" y="675" width="1" height="26" fill="#C0C0C0"/>
<rect x="1157" y="675" width="1" height="22" fill="#C0C0C0"/>
<rect x="1165" y="675" width="1" height="22" fill="#C0C0C0"/>
<rect x="1173" y="675" width="1" height="16" fill="#C0C0C0"/>
<rect x="1181" y="675" width="1" height="16" fill="#C0C0C0"/>
<rect x="1189" y="675" width="1" height="13" fill="#C0C0C0"/>
<rect x="1197" y="675" width="1" height="12" fill="#C0C0C0"/>
<rect x="1205" y="675" width="1" height="13" fill="#C0C0C0"/>
<rect x="1213" y="675" width="1" height="10" fill="#C0C0C0"/>
<rect x="1221" y="675" width="1" height="8" fill="#C0C0C0"/>
<rect x="1229" y="675" width="1" height="3" fill="#C0C0C0"/>
<rect x="1237" y="674" width="1" height="2" fill="#C0C0C0"/>
<rect x="1245" y="667" width="1" height="9" fill="#C0C0C0"/>
<rect x="1253" y="660" width="1" height="16" fill="#C0C0C0"/>
<rect x="1261" y="654" width="1" height="22" fill="#C0C0C0"/>
<rect x="1269" y="648" width="1" height="28" fill="#C0C0C0"/>
<rect x="1277" y="642" width="1" height="34" fill="#C0C0C0"/>
<rect x="1285" y="639" width="1" height="37" fill="#C0C0C0"/>
<polyline points="0.5,598.5 3.0,600.6 10.5,606.9 20.6,615.6 33.2,626.9 45.7,637.0 60.8,645.8 75.9,653.3 93.4,657.6 111.0,659.1 126.1,660.9 141.2,664.6 151.2,667.9 163.8,671.4 176.3,672.9 191.4,672.7 201.5,670.9 214.0,667.6 226.6,664.6 236.6,662.9 251.7,661.6 269.3,660.9 284.3,659.6 301.9,657.6 312.0,654.6 319.5,651.3 332.1,647.0 342.1,643.8 357.2,641.3 372.3,639.8 382.3,640.3 392.4,643.3 400.5,645.3 408.0,645.8 418.1,649.1 428.1,653.8 438.2,659.6 450.7,672.2 463.3,688.5 475.9,703.6 485.9,718.6 496.0,732.4 506.0,741.2 516.0,747.5 523.6,748.8 531.1,748.0 541.2,743.2 551.2,733.7 563.8,721.1 576.3,706.1 588.9,687.2 601.5,668.4 614.0,649.6 626.6,634.5 636.6,625.7 646.7,617.7 654.2,615.1 664.3,615.1 674.3,616.4 686.9,617.7 694.4,618.7 709.5,617.7 724.5,616.1 737.1,611.9 749.7,609.9 762.2,611.4 774.8,617.7 787.3,624.4 799.9,633.2 812.5,639.9 824.4,645.9 836.4,649.2 848.3,651.9 863.3,655.8 875.3,659.7 887.2,666.2 899.2,674.6 911.1,682.7 923.1,691.1 935.1,700.0 947.0,709.6 959.0,716.2 971.0,720.7 982.9,723.1 994.9,722.2 1006.8,717.1 1018.8,709.6 1033.8,702.1 1048.7,697.0 1063.7,695.2 1075.6,695.5 1084.6,698.2 1099.5,701.2 1114.5,704.5 1129.4,706.3 1147.4,706.9 1162.3,705.1 1177.3,700.6 1192.2,697.6 1207.2,694.1 1222.2,690.2 1234.1,687.2 1246.1,681.8 1258.0,676.7 1270.0,671.6 1279.0,665.6 1285.8,661.8" fill="none" stroke="#FF0000" stroke-width="1" stroke-dasharray="3 3"/>
</g>
<text x="2" y="599" font-size="10" fill="#000" text-anchor="start" letter-spacing="-0.34" font-weight="normal" stroke="#000" stroke-width="0.2">MACD(12,26,9) 0.0892 0.0371</text>
<rect x="1626" y="588" width="1" height="1" fill="#000"/>
<text x="1629" y="597" font-size="10" fill="#000" text-anchor="start" letter-spacing="-0.5" font-weight="normal" stroke="#000" stroke-width="0.2">0.2126</text>
<rect x="1626" y="675" width="1" height="1" fill="#000"/>
<text x="1629" y="679" font-size="10" fill="#000" text-anchor="start" letter-spacing="-0.5" font-weight="normal" stroke="#000" stroke-width="0.2">0.00</text>
<rect x="1626" y="768" width="1" height="1" fill="#000"/>
<text x="1629" y="766" font-size="10" fill="#000" text-anchor="start" letter-spacing="-0.5" font-weight="normal" stroke="#000" stroke-width="0.2">-0.2285</text>
<line x1="0" y1="804.5" x2="1625" y2="804.5" stroke="#C0C0C0" stroke-width="1" stroke-dasharray="3 3" stroke-dashoffset="2"/>
<line x1="0" y1="851.5" x2="1625" y2="851.5" stroke="#C0C0C0" stroke-width="1" stroke-dasharray="3 3" stroke-dashoffset="2"/>
<line x1="0" y1="907.5" x2="1625" y2="907.5" stroke="#C0C0C0" stroke-width="1" stroke-dasharray="3 3" stroke-dashoffset="2"/>
<g clip-path="url(#crsi)">
<polyline points="0.5,843.5 5.5,846.3 13.5,855.5 21.5,855.5 29.5,857.9 37.5,852.6 45.5,848.1 53.5,848.1 61.5,846.8 69.5,842.6 77.5,844.7 85.5,840.8 93.5,850.8 101.5,846.8 109.5,850.2 117.5,857.9 125.5,855.5 133.5,869.2 141.5,864.4 149.5,856.0 157.5,841.6 165.5,839.7 173.5,843.7 181.5,846.0 189.5,840.0 197.5,844.7 205.5,846.0 213.5,845.0 221.5,848.1 229.5,843.7 237.5,848.7 245.5,853.9 253.5,837.9 261.5,843.7 269.5,840.0 277.5,838.9 285.5,840.8 293.5,841.8 301.5,821.8 309.5,831.8 317.5,828.7 325.5,830.8 333.5,841.8 341.5,837.9 349.5,845.0 357.5,845.0 365.5,841.8 373.5,845.0 381.5,843.7 389.5,846.0 397.5,841.6 405.5,845.0 413.5,851.6 421.5,868.7 429.5,870.0 437.5,891.6 445.5,894.7 453.5,898.1 461.5,896.8 469.5,892.9 477.5,896.0 485.5,893.7 493.5,875.0 501.5,864.4 509.5,867.9 517.5,867.1 525.5,860.0 533.5,850.2 541.5,842.9 549.5,835.5 557.5,832.3 565.5,826.6 573.5,828.9 581.5,827.6 589.5,813.9 597.5,810.8 605.5,818.7 613.5,828.9 621.5,833.7 629.5,831.8 637.5,831.8 645.5,837.6 653.5,839.7 661.5,857.3 669.5,840.8 677.5,833.7 685.5,825.8 693.5,827.6 701.5,829.7 709.5,834.4 717.5,830.5 725.5,826.6 733.5,843.7 741.5,842.9 749.5,840.8 757.5,849.4 765.5,855.5 773.5,856.8 781.5,847.6 789.5,851.6 797.5,850.8 805.5,844.7 813.5,838.9 821.5,840.8 829.5,846.8 837.5,859.2 845.5,856.0 853.5,852.9 861.5,851.6 869.5,860.8 877.5,871.8 885.5,867.1 893.5,865.8 901.5,870.0 909.5,866.6 917.5,871.3 925.5,875.2 933.5,885.0 941.5,875.0 949.5,867.9 957.5,870.0 965.5,862.1 973.5,856.8 981.5,849.4 989.5,857.9 997.5,849.4 1005.5,844.2 1013.5,839.7 1021.5,864.7 1029.5,860.0 1037.5,857.9 1045.5,861.8 1053.5,857.9 1061.5,854.7 1069.5,865.8 1077.5,863.9 1085.5,865.8 1093.5,865.8 1101.5,867.9 1109.5,864.7 1117.5,853.9 1125.5,855.2 1133.5,863.9 1141.5,860.0 1149.5,856.0 1157.5,852.1 1165.5,860.0 1173.5,850.0 1181.5,854.7 1189.5,850.8 1197.5,854.2 1205.5,860.0 1213.5,849.4 1221.5,850.8 1229.5,845.0 1237.5,842.3 1245.5,837.1 1253.5,835.5 1261.5,831.8 1269.5,830.0 1277.5,828.7 1285.5,831.0" fill="none" stroke="#1E90FF" stroke-width="1"/>
</g>
<text x="2" y="784" font-size="10" fill="#000" text-anchor="start" letter-spacing="-0.34" font-weight="normal" stroke="#000" stroke-width="0.2">RSI(14) 63.7113</text>
<rect x="1626" y="773" width="1" height="1" fill="#000"/>
<text x="1629.3" y="782" font-size="10" fill="#000" text-anchor="start" letter-spacing="-0.5" font-weight="normal" stroke="#000" stroke-width="0.2">100</text>
<rect x="1625" y="804" width="1" height="1" fill="#C0C0C0"/>
<text x="1628.3" y="808" font-size="10" fill="#000" text-anchor="start" letter-spacing="-0.5" font-weight="normal" stroke="#000" stroke-width="0.2">80</text>
<rect x="1625" y="851" width="1" height="1" fill="#C0C0C0"/>
<text x="1628.3" y="855" font-size="10" fill="#000" text-anchor="start" letter-spacing="-0.5" font-weight="normal" stroke="#000" stroke-width="0.2">50</text>
<rect x="1625" y="907" width="1" height="1" fill="#C0C0C0"/>
<text x="1628.3" y="911" font-size="10" fill="#000" text-anchor="start" letter-spacing="-0.5" font-weight="normal" stroke="#000" stroke-width="0.2">15</text>
<rect x="1626" y="930" width="1" height="1" fill="#000"/>
<text x="1629" y="928" font-size="10" fill="#000" text-anchor="start" letter-spacing="-0.5" font-weight="normal" stroke="#000" stroke-width="0.2">0</text>
<text x="-4" y="944" font-size="10" fill="#000" text-anchor="start" letter-spacing="-0.19" font-weight="normal" stroke="#000" stroke-width="0.2">18 Oct 2019</text>
<rect x="61" y="932" width="1" height="3" fill="#000"/>
<text x="60" y="944" font-size="10" fill="#000" text-anchor="start" letter-spacing="-0.19" font-weight="normal" stroke="#000" stroke-width="0.2">21 Oct 12:00</text>
<rect x="125" y="932" width="1" height="3" fill="#000"/>
<text x="124" y="944" font-size="10" fill="#000" text-anchor="start" letter-spacing="-0.19" font-weight="normal" stroke="#000" stroke-width="0.2">22 Oct 20:00</text>
<rect x="189" y="932" width="1" height="3" fill="#000"/>
<text x="188" y="944" font-size="10" fill="#000" text-anchor="start" letter-spacing="-0.19" font-weight="normal" stroke="#000" stroke-width="0.2">24 Oct 04:00</text>
<rect x="253" y="932" width="1" height="3" fill="#000"/>
<text x="252" y="944" font-size="10" fill="#000" text-anchor="start" letter-spacing="-0.19" font-weight="normal" stroke="#000" stroke-width="0.2">25 Oct 12:00</text>
<rect x="317" y="932" width="1" height="3" fill="#000"/>
<text x="316" y="944" font-size="10" fill="#000" text-anchor="start" letter-spacing="-0.19" font-weight="normal" stroke="#000" stroke-width="0.2">28 Oct 20:00</text>
<rect x="381" y="932" width="1" height="3" fill="#000"/>
<text x="380" y="944" font-size="10" fill="#000" text-anchor="start" letter-spacing="-0.19" font-weight="normal" stroke="#000" stroke-width="0.2">30 Oct 04:00</text>
<rect x="445" y="932" width="1" height="3" fill="#000"/>
<text x="444" y="944" font-size="10" fill="#000" text-anchor="start" letter-spacing="-0.19" font-weight="normal" stroke="#000" stroke-width="0.2">31 Oct 12:00</text>
<rect x="509" y="932" width="1" height="3" fill="#000"/>
<text x="508" y="944" font-size="10" fill="#000" text-anchor="start" letter-spacing="-0.19" font-weight="normal" stroke="#000" stroke-width="0.2">3 Nov 23:00</text>
<rect x="573" y="932" width="1" height="3" fill="#000"/>
<text x="572" y="944" font-size="10" fill="#000" text-anchor="start" letter-spacing="-0.19" font-weight="normal" stroke="#000" stroke-width="0.2">5 Nov 04:00</text>
<rect x="637" y="932" width="1" height="3" fill="#000"/>
<text x="636" y="944" font-size="10" fill="#000" text-anchor="start" letter-spacing="-0.19" font-weight="normal" stroke="#000" stroke-width="0.2">6 Nov 12:00</text>
<rect x="701" y="932" width="1" height="3" fill="#000"/>
<text x="700" y="944" font-size="10" fill="#000" text-anchor="start" letter-spacing="-0.19" font-weight="normal" stroke="#000" stroke-width="0.2">7 Nov 20:00</text>
<rect x="765" y="932" width="1" height="3" fill="#000"/>
<text x="764" y="944" font-size="10" fill="#000" text-anchor="start" letter-spacing="-0.19" font-weight="normal" stroke="#000" stroke-width="0.2">11 Nov 04:00</text>
<rect x="829" y="932" width="1" height="3" fill="#000"/>
<text x="828" y="944" font-size="10" fill="#000" text-anchor="start" letter-spacing="-0.19" font-weight="normal" stroke="#000" stroke-width="0.2">12 Nov 12:00</text>
<rect x="893" y="932" width="1" height="3" fill="#000"/>
<text x="892" y="944" font-size="10" fill="#000" text-anchor="start" letter-spacing="-0.19" font-weight="normal" stroke="#000" stroke-width="0.2">13 Nov 20:00</text>
<rect x="957" y="932" width="1" height="3" fill="#000"/>
<text x="956" y="944" font-size="10" fill="#000" text-anchor="start" letter-spacing="-0.19" font-weight="normal" stroke="#000" stroke-width="0.2">15 Nov 04:00</text>
<rect x="1021" y="932" width="1" height="3" fill="#000"/>
<text x="1020" y="944" font-size="10" fill="#000" text-anchor="start" letter-spacing="-0.19" font-weight="normal" stroke="#000" stroke-width="0.2">18 Nov 12:00</text>
<rect x="1085" y="932" width="1" height="3" fill="#000"/>
<text x="1084" y="944" font-size="10" fill="#000" text-anchor="start" letter-spacing="-0.19" font-weight="normal" stroke="#000" stroke-width="0.2">19 Nov 20:00</text>
<rect x="1149" y="932" width="1" height="3" fill="#000"/>
<text x="1148" y="944" font-size="10" fill="#000" text-anchor="start" letter-spacing="-0.19" font-weight="normal" stroke="#000" stroke-width="0.2">21 Nov 04:00</text>
<rect x="1213" y="932" width="1" height="3" fill="#000"/>
<text x="1212" y="944" font-size="10" fill="#000" text-anchor="start" letter-spacing="-0.19" font-weight="normal" stroke="#000" stroke-width="0.2">22 Nov 12:00</text>
<rect x="1277" y="932" width="1" height="3" fill="#000"/>
<text x="1276" y="944" font-size="10" fill="#000" text-anchor="start" letter-spacing="-0.19" font-weight="normal" stroke="#000" stroke-width="0.2">25 Nov 20:00</text>
<polygon points="0,42 7,42 3.5,38" fill="#000"/>
<text x="12.5" y="43" font-size="10" fill="#000" text-anchor="start" letter-spacing="-0.37" font-weight="normal" stroke="#000" stroke-width="0.2">USDJPY-,H4&#160; 108.992 108.997 108.969 108.971</text>
<g style="shape-rendering:auto">
<text x="1369.9" y="344.6" font-size="31.5" font-weight="bold" letter-spacing="1.5" fill="#181830" font-family="'Liberation Serif','Noto Serif CJK SC',serif">多空转折点</text>
<text x="1368.9" y="343.6" font-size="31.5" font-weight="bold" letter-spacing="1.5" fill="#00FF00" font-family="'Liberation Serif','Noto Serif CJK SC',serif">多空转折点</text>
</g>
</svg>
<svg id="tb" width="1672" height="31" viewBox="0 0 1672 31" text-rendering="geometricPrecision" font-family="Liberation Sans, sans-serif">
<rect x="0" y="0" width="1672" height="31" fill="#f0f0f0"/>
<rect x="0" y="0" width="1672" height="1" fill="#a0a0a0"/>
<rect x="0" y="1" width="1672" height="1" fill="#ffffff"/>
<rect x="0" y="27" width="1672" height="1" fill="#d8d8d8"/>
<rect x="0" y="28" width="1672" height="1" fill="#a0a0a0"/>
<rect x="0" y="29" width="1672" height="2" fill="#ffffff"/>
<g><path d="M-4,6.5 h8 l3,3 v9 h-11z" fill="#fff" stroke="#909090" stroke-width="1"/><path d="M4,6.5 v3 h3" fill="none" stroke="#909090"/><rect x="0" y="10" width="3" height="1" fill="#909090"/><rect x="0" y="13" width="3" height="1" fill="#909090"/><path d="M4,13 h4 v4 h4 v4 h-4 v4 h-4 v-4 h-4 v-4 h4z" fill="#22c322" stroke="#0a8a0a" stroke-width="0.8"/></g>
<text x="15" y="17.6" font-size="12.2" fill="#000" stroke="#000" stroke-width="0.27" font-family="'Liberation Sans','Noto Sans CJK SC',sans-serif">新订单</text>
<defs><linearGradient id="gd" x1="0" y1="0" x2="1" y2="1"><stop offset="0" stop-color="#c89018"/><stop offset="0.45" stop-color="#ffe47a"/><stop offset="1" stop-color="#d8a020"/></linearGradient><linearGradient id="bl" x1="0" y1="0" x2="1" y2="0"><stop offset="0" stop-color="#8cc8ff"/><stop offset="1" stop-color="#1e78e0"/></linearGradient><linearGradient id="cl" x1="0" y1="0" x2="0" y2="1"><stop offset="0" stop-color="#ffffff"/><stop offset="1" stop-color="#c4d2ea"/></linearGradient><linearGradient id="rd" x1="0" y1="0" x2="0" y2="1"><stop offset="0" stop-color="#f04030"/><stop offset="1" stop-color="#c01000"/></linearGradient></defs>
<g><path d="M68.5,8 L78.7,15.6 L71.2,22.6 L63.3,17.4z" fill="#9a6408"/><path d="M68.8,8.3 L78.3,14.2 L71,20.6 L64,16z" fill="url(#gd)" stroke="#a87010" stroke-width="0.9"/><path d="M71.3,21.6 L78,15.4" stroke="#fff0c0" stroke-width="0.9"/><path d="M69.5,9.5 Q66,12 65.3,15.6" stroke="#fff2a8" stroke-width="1" fill="none" opacity="0.8"/></g>
<g><path d="M93.2,8.6 L96.2,7.2 L103.4,8 L103.4,17 L93.2,17z" fill="url(#bl)" stroke="#1a66c8" stroke-width="0.8"/><path d="M93.2,8.6 L96.2,7.2 L96.2,17 L93.2,17z" fill="#6ab8ff"/><path d="M97.3,10.2 h5 M97.3,12.4 h5" stroke="#e4f2ff" stroke-width="1.1"/><path d="M94.2,22.5 a2.6,2.6 0 0 1 -0.3,-5.1 a3.4,2.8 0 0 1 6.4,-0.6 a3,2.6 0 0 1 4.9,1.2 a2.3,2.3 0 0 1 -0.5,4.5z" fill="url(#cl)" stroke="#5c7cb8" stroke-width="1"/></g>
<g fill="none"><circle cx="126.8" cy="14.8" r="7.6" stroke="#b4c4e4" stroke-width="1.1"/><circle cx="126.8" cy="14.8" r="5.2" stroke="#5c88d8" stroke-width="1.3"/><circle cx="126.8" cy="14.8" r="2.8" stroke="#88a8e0" stroke-width="0.9"/><path d="M126.8,14.8 L126.8,23 A8.2,8.2 0 0 0 132.6,9 z" fill="#70b870" opacity="0.3"/><path d="M126.8,22.4 A7.6,7.6 0 0 0 134.4,14.8" stroke="#78b878" stroke-width="1.1"/><path d="M126.8,20 A5.2,5.2 0 0 0 132,14.8" stroke="#4a9a4a" stroke-width="1.3"/><circle cx="126.8" cy="14.6" r="1.7" fill="#2050c0"/><path d="M127.5,15.5 V22.8" stroke="#18a018" stroke-width="1"/></g>
<g><path d="M147,14 L162,14 L155.8,21.8 Q153.5,23 151.8,21.6z" fill="#fadc48" stroke="#d0a018" stroke-width="0.8"/><path d="M147.5,14 L156,14 L152,21.4z" fill="#fff0a0" opacity="0.7"/><ellipse cx="154.4" cy="12.2" rx="8.2" ry="2.6" fill="#5aa4dc" stroke="#3a7cb8" stroke-width="0.7"/><path d="M150.2,11.8 Q150.4,7.2 154.2,7.2 Q158,7.2 158.2,11.8z" fill="#6cb4e8" stroke="#3a7cb8" stroke-width="0.7"/><path d="M151,10.4 Q151.6,8.2 154,8" stroke="#c0e4ff" stroke-width="0.9" fill="none"/><circle cx="158.3" cy="18.8" r="4.3" fill="url(#rd)"/><rect x="156.9" y="17.4" width="2.8" height="2.8" fill="#fff"/></g>
<text x="167.3" y="18.4" font-size="12" letter-spacing="-0.25" fill="#000" stroke="#000" stroke-width="0.26" font-family="'Liberation Sans','Noto Sans CJK SC',sans-serif">自动交易</text>
<rect x="222" y="3" width="1" height="23" fill="#a0a0a0"/>
<rect x="223" y="3" width="1" height="23" fill="#ffffff"/>
<rect x="226" y="5" width="3" height="1" fill="#b0b0b0"/>
<rect x="226" y="7" width="3" height="1" fill="#b0b0b0"/>
<rect x="226" y="9" width="3" height="1" fill="#b0b0b0"/>
<rect x="226" y="11" width="3" height="1" fill="#b0b0b0"/>
<rect x="226" y="13" width="3" height="1" fill="#b0b0b0"/>
<rect x="226" y="15" width="3" height="1" fill="#b0b0b0"/>
<rect x="226" y="17" width="3" height="1" fill="#b0b0b0"/>
<rect x="226" y="19" width="3" height="1" fill="#b0b0b0"/>
<rect x="226" y="21" width="3" height="1" fill="#b0b0b0"/>
<rect x="226" y="23" width="3" height="1" fill="#b0b0b0"/>
<g stroke="#505050" stroke-width="1" fill="none" shape-rendering="crispEdges"><line x1="240.5" y1="10" x2="240.5" y2="23"/><line x1="238" y1="20.5" x2="251" y2="20.5"/></g><path d="M240.5,8 l-2,3 h4z M252.5,20.5 l-3,-2 v4z" fill="#505050"/>
<path d="M246.5,19 v-8 M244,18.5 h2.5 M246.5,11.5 h2.5" stroke="#1e8a1e" stroke-width="1.4" fill="none" shape-rendering="crispEdges"/>
<rect x="260" y="3" width="25" height="22" fill="#f8f8f8"/>
<rect x="260" y="3" width="25" height="1" fill="#a0a0a0"/><rect x="260" y="3" width="1" height="22" fill="#a0a0a0"/>
<rect x="260" y="24" width="25" height="1" fill="#ffffff"/><rect x="284" y="3" width="1" height="22" fill="#ffffff"/>
<g stroke="#505050" stroke-width="1" fill="none" shape-rendering="crispEdges"><line x1="268.5" y1="10" x2="268.5" y2="23"/><line x1="266" y1="20.5" x2="279" y2="20.5"/></g><path d="M268.5,8 l-2,3 h4z M280.5,20.5 l-3,-2 v4z" fill="#505050"/>
<path d="M274.5,7 v12" stroke="#1e8a1e" stroke-width="1.2"/><rect x="272.5" y="9.5" width="4" height="7" fill="#38d838" stroke="#1e8a1e" stroke-width="1"/>
<g stroke="#505050" stroke-width="1" fill="none" shape-rendering="crispEdges"><line x1="296.5" y1="10" x2="296.5" y2="23"/><line x1="294" y1="20.5" x2="307" y2="20.5"/></g><path d="M296.5,8 l-2,3 h4z M308.5,20.5 l-3,-2 v4z" fill="#505050"/>
<path d="M295,18 Q299,8 302,12 T307,16" stroke="#2a9a2a" stroke-width="1.3" fill="none"/>
<rect x="317" y="4" width="1" height="21" fill="#a0a0a0"/>
<rect x="318" y="4" width="1" height="21" fill="#ffffff"/>
<g><path d="M335,16 l5.5,5.5" stroke="#c8a020" stroke-width="3" stroke-linecap="round"/><path d="M335,16 l5.5,5.5" stroke="#f0d060" stroke-width="1.2" stroke-linecap="round"/><circle cx="332" cy="13" r="5.3" fill="#d8ecfa" stroke="#3a7ad0" stroke-width="1.3"/><path d="M329,13 h6 M332,10 v6" stroke="#2a6ab8" stroke-width="1.6"/></g>
<g><path d="M363,16 l5.5,5.5" stroke="#c8a020" stroke-width="3" stroke-linecap="round"/><path d="M363,16 l5.5,5.5" stroke="#f0d060" stroke-width="1.2" stroke-linecap="round"/><circle cx="360" cy="13" r="5.3" fill="#d8ecfa" stroke="#3a7ad0" stroke-width="1.3"/><path d="M357,13 h6" stroke="#2a6ab8" stroke-width="1.6"/></g>
<rect x="382" y="7" width="8" height="8" fill="#3aa03a"/><rect x="382" y="7" width="8" height="2" fill="#1e7a1e"/><rect x="383.5" y="10.5" width="5" height="3" fill="#fff"/>
<rect x="390" y="7" width="8" height="8" fill="#2858d0"/><rect x="390" y="7" width="8" height="2" fill="#1838a0"/><rect x="391.5" y="10.5" width="5" height="3" fill="#fff"/>
<rect x="382" y="15" width="8" height="8" fill="#2858d0"/><rect x="382" y="15" width="8" height="2" fill="#1838a0"/><rect x="383.5" y="18.5" width="5" height="3" fill="#fff"/>
<rect x="390" y="15" width="8" height="8" fill="#3aa03a"/><rect x="390" y="15" width="8" height="2" fill="#1e7a1e"/><rect x="391.5" y="18.5" width="5" height="3" fill="#fff"/>
<rect x="407" y="4" width="1" height="21" fill="#a0a0a0"/>
<rect x="408" y="4" width="1" height="21" fill="#ffffff"/>
<rect x="412" y="3" width="25" height="22" fill="#f8f8f8"/>
<rect x="412" y="3" width="25" height="1" fill="#a0a0a0"/><rect x="412" y="3" width="1" height="22" fill="#a0a0a0"/>
<rect x="412" y="24" width="25" height="1" fill="#ffffff"/><rect x="436" y="3" width="1" height="22" fill="#ffffff"/>
<g stroke="#505050" stroke-width="1" fill="none" shape-rendering="crispEdges"><line x1="420.5" y1="10" x2="420.5" y2="23"/><line x1="418" y1="20.5" x2="431" y2="20.5"/></g><path d="M420.5,8 l-2,3 h4z M432.5,20.5 l-3,-2 v4z" fill="#505050"/>
<path d="M425,11 l4.2,3 l-4.2,3z" fill="#e8ffe8" stroke="#28a028" stroke-width="1.1"/>
<rect x="440" y="3" width="25" height="22" fill="#f8f8f8"/>
<rect x="440" y="3" width="25" height="1" fill="#a0a0a0"/><rect x="440" y="3" width="1" height="22" fill="#a0a0a0"/>
<rect x="440" y="24" width="25" height="1" fill="#ffffff"/><rect x="464" y="3" width="1" height="22" fill="#ffffff"/>
<g stroke="#505050" stroke-width="1" fill="none" shape-rendering="crispEdges"><line x1="448.5" y1="10" x2="448.5" y2="23"/><line x1="446" y1="20.5" x2="459" y2="20.5"/></g><path d="M448.5,8 l-2,3 h4z M460.5,20.5 l-3,-2 v4z" fill="#505050"/>
<path d="M454.5,9 v10" stroke="#2060c0" stroke-width="1.2"/><path d="M456.3,14.5 l2.6,-2 v4z M456.3,14.5 h4.4" fill="#d04010" stroke="#d04010" stroke-width="0.8"/>
<rect x="469" y="4" width="1" height="21" fill="#a0a0a0"/>
<rect x="470" y="4" width="1" height="21" fill="#ffffff"/>
<g><path d="M480.5,8.5 h7 l3,3 v8 h-10z" fill="#fff" stroke="#909090"/><path d="M482,12 v5 M482,14 h3" stroke="#707070" stroke-width="0.8"/><path d="M487,13 h4 v4 h4 v4 h-4 v4 h-4 v-4 h-4 v-4 h4z" fill="#22c322" stroke="#0a8a0a" stroke-width="0.8"/></g>
<polygon points="501.0,14 506.0,14 503.5,17" fill="#000"/>
<g><circle cx="525" cy="15" r="7.3" fill="#f4f8fc" stroke="#2468c8" stroke-width="2.4"/><path d="M525,10.5 v4.5 h3.5" stroke="#404040" stroke-width="1" fill="none"/></g>
<polygon points="540.0,14 545.0,14 542.5,17" fill="#000"/>
<g><rect x="556.5" y="8.5" width="15" height="13" fill="#fff" stroke="#2a68c0"/><rect x="556" y="8" width="16" height="3" fill="#3a78d0"/><path d="M556.5,15.5 h15" stroke="#8ab0e0" stroke-width="0.8"/><path d="M558,13.5 l3,-1 l3,1 l3,-1.5 l3,0.5" stroke="#b03018" stroke-width="1.2" fill="none"/><path d="M558,19 l3,-1 l2,1 l3,-2 l2,1.5 l2,-0.5" stroke="#28a028" stroke-width="1.2" fill="none"/></g>
<polygon points="579.0,14 584.0,14 581.5,17" fill="#000"/>
<rect x="590" y="3" width="1" height="23" fill="#a0a0a0"/>
<rect x="591" y="3" width="1" height="23" fill="#ffffff"/>
<rect x="594" y="5" width="3" height="1" fill="#b0b0b0"/>
<rect x="594" y="7" width="3" height="1" fill="#b0b0b0"/>
<rect x="594" y="9" width="3" height="1" fill="#b0b0b0"/>
<rect x="594" y="11" width="3" height="1" fill="#b0b0b0"/>
<rect x="594" y="13" width="3" height="1" fill="#b0b0b0"/>
<rect x="594" y="15" width="3" height="1" fill="#b0b0b0"/>
<rect x="594" y="17" width="3" height="1" fill="#b0b0b0"/>
<rect x="594" y="19" width="3" height="1" fill="#b0b0b0"/>
<rect x="594" y="21" width="3" height="1" fill="#b0b0b0"/>
<rect x="594" y="23" width="3" height="1" fill="#b0b0b0"/>
<rect x="600" y="3" width="25" height="22" fill="#f8f8f8"/>
<rect x="600" y="3" width="25" height="1" fill="#a0a0a0"/><rect x="600" y="3" width="1" height="22" fill="#a0a0a0"/>
<rect x="600" y="24" width="25" height="1" fill="#ffffff"/><rect x="624" y="3" width="1" height="22" fill="#ffffff"/>
<path d="M608,7.5 v12.5 l3,-2.8 l2.2,4.6 l2,-1 l-2.2,-4.4 h4.2z" fill="#202020"/>
<path d="M640.5,8 v15 M633,15.5 h15" stroke="#404040" stroke-width="1" shape-rendering="crispEdges"/><rect x="639" y="14" width="3" height="3" fill="#f0f0f0"/>
<rect x="657" y="4" width="1" height="21" fill="#a0a0a0"/>
<rect x="658" y="4" width="1" height="21" fill="#ffffff"/>
<path d="M674.5,9 v13" stroke="#404040" stroke-width="1" shape-rendering="crispEdges"/>
<path d="M697,15.5 h12" stroke="#404040" stroke-width="1" shape-rendering="crispEdges"/>
<path d="M724.5,22 L737.5,9.5" stroke="#505050" stroke-width="1.1"/>
<g stroke="#505050" stroke-width="1" fill="none"><path d="M751,20 L765,9 M753,23 L767,12 M755,16 v5 M759,13 v5 M763,10 v5"/></g>
<text x="761.3" y="24.3" font-size="7.5" font-weight="bold" fill="#303030">E</text>
<path d="M779,8.5 h14" stroke="#505050" stroke-width="1" stroke-dasharray="1 1" shape-rendering="crispEdges"/>
<path d="M779,11.5 h14" stroke="#505050" stroke-width="1" stroke-dasharray="1 1" shape-rendering="crispEdges"/>
<path d="M779,15.5 h14" stroke="#505050" stroke-width="1" stroke-dasharray="1 1" shape-rendering="crispEdges"/>
<path d="M779,19.5 h14" stroke="#505050" stroke-width="1" stroke-dasharray="1 1" shape-rendering="crispEdges"/>
<text x="789.5" y="24.3" font-size="7.5" font-weight="bold" fill="#303030">F</text>
<text x="809.5" y="20.5" font-size="13" font-weight="bold" fill="#606060">A</text>
<rect x="836.5" y="8.5" width="12" height="13" fill="none" stroke="#505050" stroke-width="1" stroke-dasharray="1 1" shape-rendering="crispEdges"/><text x="838" y="20" font-size="12" font-weight="bold" fill="#505050">T</text>
<g fill="#303030"><path d="M864,12.5 l3.5,-3.5 l3.5,3.5 l-3.5,2z"/><path d="M871,18.5 l3.5,3.5 l3.5,-3.5 l-3.5,-2z"/><path d="M866,15 l6,3" stroke="#303030" stroke-width="1.5"/></g>
<polygon points="885.0,14 890.0,14 887.5,17" fill="#000"/>
<rect x="896" y="3" width="1" height="23" fill="#a0a0a0"/>
<rect x="897" y="3" width="1" height="23" fill="#ffffff"/>
<rect x="900" y="5" width="3" height="1" fill="#b0b0b0"/>
<rect x="900" y="7" width="3" height="1" fill="#b0b0b0"/>
<rect x="900" y="9" width="3" height="1" fill="#b0b0b0"/>
<rect x="900" y="11" width="3" height="1" fill="#b0b0b0"/>
<rect x="900" y="13" width="3" height="1" fill="#b0b0b0"/>
<rect x="900" y="15" width="3" height="1" fill="#b0b0b0"/>
<rect x="900" y="17" width="3" height="1" fill="#b0b0b0"/>
<rect x="900" y="19" width="3" height="1" fill="#b0b0b0"/>
<rect x="900" y="21" width="3" height="1" fill="#b0b0b0"/>
<rect x="900" y="23" width="3" height="1" fill="#b0b0b0"/>
<rect x="1046" y="3" width="25" height="22" fill="#f8f8f8"/>
<rect x="1046" y="3" width="25" height="1" fill="#a0a0a0"/><rect x="1046" y="3" width="1" height="22" fill="#a0a0a0"/>
<rect x="1046" y="24" width="25" height="1" fill="#ffffff"/><rect x="1070" y="3" width="1" height="22" fill="#ffffff"/>
<text x="918" y="18.7" font-size="10.3" fill="#404040" text-anchor="middle" letter-spacing="-0.3">M1</text>
<text x="946.3" y="18.7" font-size="10.3" fill="#404040" text-anchor="middle" letter-spacing="-0.3">M5</text>
<text x="974.3" y="18.7" font-size="10.3" fill="#404040" text-anchor="middle" letter-spacing="-0.3">M15</text>
<text x="1002.3" y="18.7" font-size="10.3" fill="#404040" text-anchor="middle" letter-spacing="-0.3">M30</text>
<text x="1030.3" y="18.7" font-size="10.3" fill="#404040" text-anchor="middle" letter-spacing="-0.3">H1</text>
<text x="1058.3" y="18.7" font-size="10.3" fill="#404040" text-anchor="middle" letter-spacing="-0.3">H4</text>
<text x="1086.3" y="18.7" font-size="10.3" fill="#404040" text-anchor="middle" letter-spacing="-0.3">D1</text>
<text x="1114.3" y="18.7" font-size="10.3" fill="#404040" text-anchor="middle" letter-spacing="-0.3">W1</text>
<text x="1142.3" y="18.7" font-size="10.3" fill="#404040" text-anchor="middle" letter-spacing="-0.3">MN</text>
<rect x="1157" y="3" width="1" height="23" fill="#a0a0a0"/>
<rect x="1158" y="3" width="1" height="23" fill="#ffffff"/>
<g><path d="M1624.3,15.5 L1619.8,19.8" stroke="#2858d8" stroke-width="2.6" stroke-linecap="round"/><circle cx="1627.4" cy="12.3" r="3.9" fill="#f4f6fc" stroke="#2858d8" stroke-width="1.4"/></g>
<g><path d="M1667,12 a6.3,4.6 0 1 0 -9,4 h4 l2,2 v-2.3 a6,4.6 0 0 0 3,-3.7z" fill="#f4f4f8" stroke="#909098" stroke-width="1"/><path d="M1656.5,16 a5,3.8 0 1 0 -7.5,3.2 l-1,2.5 l3,-2 a5,3.8 0 0 0 5.5,-3.7z" fill="#f6f6fa" stroke="#909098" stroke-width="1"/></g>
</svg>
<div id="trade">
<div class="sb" style="left:0;top:0;width:52px;height:24px;"><span class="sx" style="left:12.2px;top:6.2px;">SELL</span></div>
<div class="sb" style="left:167px;top:0;width:52px;height:24px;"><span class="sx" style="left:13.2px;top:6.2px;transform:scaleX(0.96);">BUY</span></div>
<div style="left:54px;top:0;width:111px;height:22px;background:#fff;border:1px solid #a8a8a8;"></div>
<div style="left:55px;top:1px;width:21px;height:20px;background:linear-gradient(#f0f0f0,#dcdcdc);border-right:1px solid #b0b0b0;"></div>
<div style="left:143px;top:1px;width:21px;height:20px;background:linear-gradient(#f4f4f4,#dcdcdc);border-left:1px solid #b0b0b0;"></div>
<div style="left:62px;top:9px;width:0;height:0;border-left:3px solid transparent;border-right:3px solid transparent;border-top:3px solid #000;"></div>
<div style="left:151px;top:9px;width:0;height:0;border-left:3px solid transparent;border-right:3px solid transparent;border-bottom:3px solid #000;"></div>
<div style="left:76px;top:1px;width:64px;height:20px;text-align:right;font-size:12.5px;line-height:20px;color:#1a2238;">1.00</div>
<div class="pp" style="left:0;top:24px;width:109px;height:40px;">
<span class="s1" style="left:23.3px;top:20.4px;">108</span>
<span class="s2" style="left:46.4px;top:3.1px;">97</span>
<span class="s3" style="left:86.5px;top:5.2px;">1</span></div>
<div class="pp" style="left:111px;top:24px;width:108px;height:40px;">
<span class="s1" style="left:22.3px;top:20.4px;">108</span>
<span class="s2" style="left:46.1px;top:3.1px;">98</span>
<span class="s3" style="left:86.8px;top:5.3px;">9</span></div>
<div style="left:4px;top:23px;width:44px;height:1px;background:#a80808;"></div>
<div style="left:4px;top:24px;width:44px;height:1px;background:#f48080;"></div>
<div style="left:171px;top:23px;width:44px;height:1px;background:#a80808;"></div>
<div style="left:171px;top:24px;width:44px;height:1px;background:#f48080;"></div>
<div style="left:0;top:0;width:52px;height:1px;background:#c01818;"></div>
<div style="left:0;top:0;width:1px;height:64px;background:#b81010;"></div>
<div style="left:51px;top:0;width:1px;height:24px;background:#b81010;"></div>
<div style="left:52px;top:24px;width:57px;height:1px;background:#b81010;"></div>
<div style="left:108px;top:24px;width:1px;height:40px;background:#a80808;"></div>
<div style="left:167px;top:0;width:52px;height:1px;background:#c01818;"></div>
<div style="left:218px;top:0;width:1px;height:64px;background:#b81010;"></div>
<div style="left:167px;top:0;width:1px;height:24px;background:#b81010;"></div>
<div style="left:111px;top:24px;width:57px;height:1px;background:#b81010;"></div>
<div style="left:111px;top:24px;width:1px;height:40px;background:#a80808;"></div>
<div style="left:0;top:63px;width:109px;height:1px;background:#a00000;"></div>
<div style="left:111px;top:63px;width:108px;height:1px;background:#a00000;"></div>
</div>
</body></html>
